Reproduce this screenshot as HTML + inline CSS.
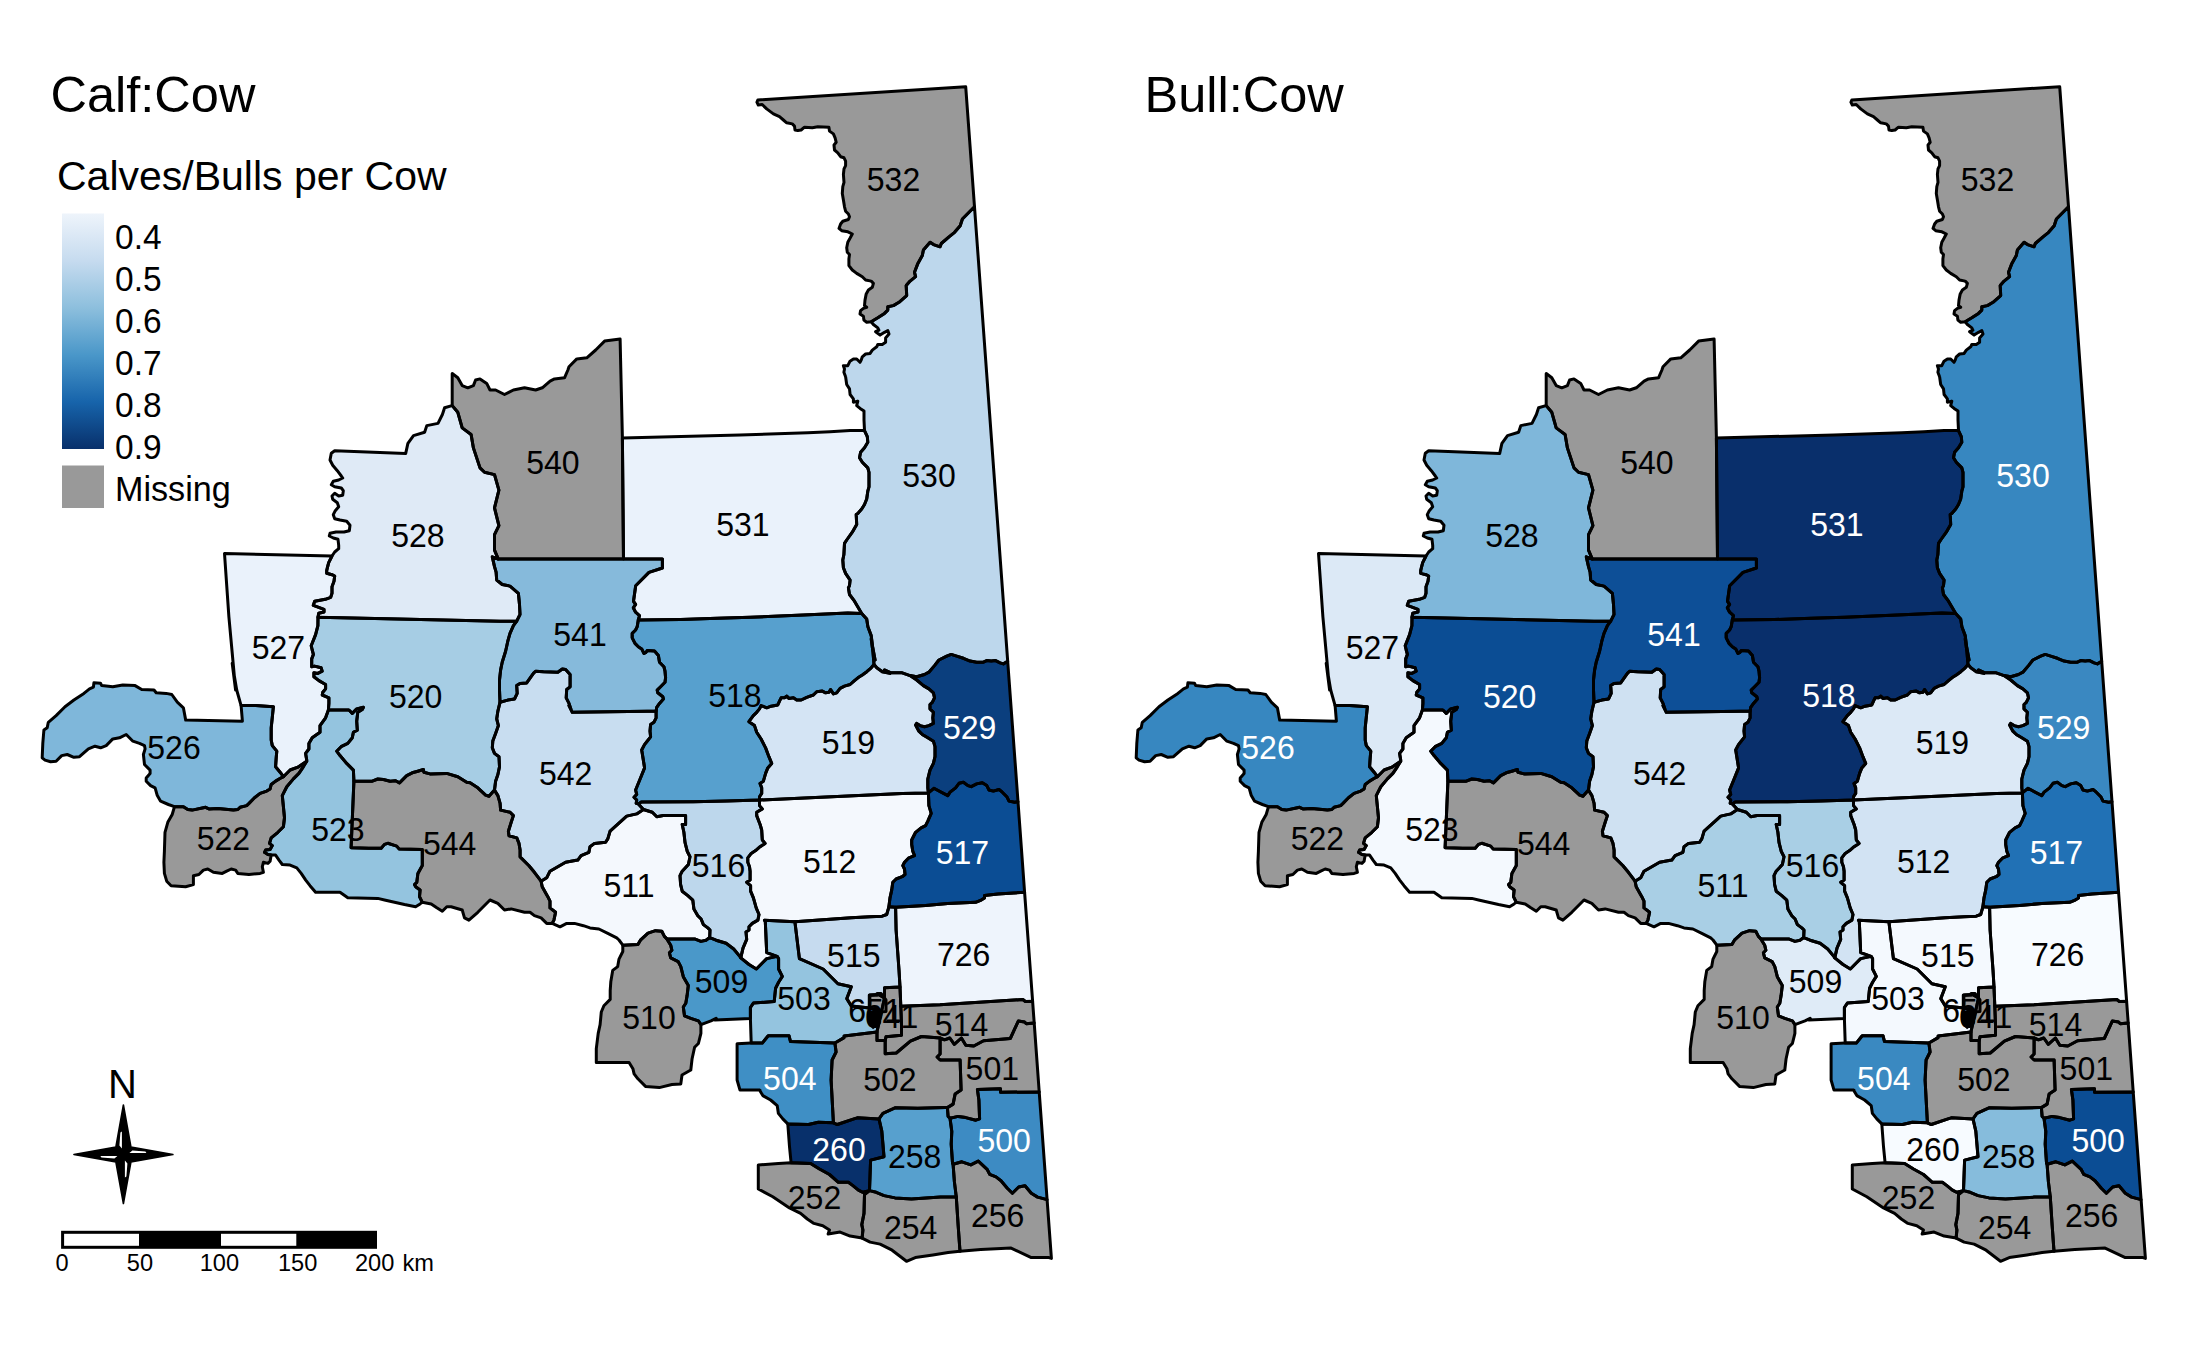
<!DOCTYPE html>
<html><head><meta charset="utf-8"><style>
html,body{margin:0;padding:0;background:#fff;}
svg{display:block;}
text{font-family:"Liberation Sans",sans-serif;}
.lab text{font-size:32.7px;text-anchor:middle;}
</style></head><body>
<svg width="2187" height="1349" viewBox="0 0 2187 1349">
<defs>
<linearGradient id="lg" x1="0" y1="0" x2="0" y2="1">
<stop offset="0" stop-color="#eef4fb"/>
<stop offset="0.2" stop-color="#c6dbef"/>
<stop offset="0.4" stop-color="#8dbfdd"/>
<stop offset="0.6" stop-color="#4a97c9"/>
<stop offset="0.8" stop-color="#1764ab"/>
<stop offset="1" stop-color="#08306b"/>
</linearGradient>
<g id="borders" fill="none" stroke="#000" stroke-width="3" stroke-linejoin="round"><path d="M757.8,100.0 965.7,86.7 974.5,206.8 962.4,219.0 960.2,225.7 954.6,232.3 949.0,236.8 941.3,243.5 940.1,246.8 933.5,244.6 930.1,242.2 923.4,250.0 922.3,255.6 917.9,263.4 914.5,272.3 915.6,276.7 910.1,281.1 906.2,285.6 906.7,295.6 899.0,302.3 893.4,305.6 887.8,306.7 887.8,310.1 884.5,313.4 877.8,317.8 871.2,321.7 866.7,322.3 863.9,320.1 863.4,316.2 860.0,314.0 860.6,310.6 863.4,308.4 866.7,307.3 864.5,305.6 865.0,300.1 866.2,293.9 868.4,290.0 872.3,287.3 873.4,283.4 871.2,281.1 865.6,280.0 862.3,276.7 856.7,273.4 852.3,270.0 848.9,265.6 848.9,258.9 849.5,254.5 847.3,252.2 846.7,247.8 847.8,242.2 850.0,238.3 852.3,234.0 847.9,231.8 841.7,230.7 839.0,228.4 840.6,224.0 842.8,221.2 848.4,219.5 849.5,216.8 848.4,214.0 845.6,211.2 844.5,206.8 843.4,200.1 842.3,193.4 842.8,186.7 844.0,182.3 843.4,174.5 844.0,168.9 845.6,165.6 845.6,161.2 844.0,157.8 840.6,156.7 837.8,152.8 834.5,150.0 834.0,145.0 836.2,142.3 835.1,137.8 833.4,133.9 829.5,131.1 828.9,127.2 817.8,126.7 812.3,127.8 804.5,127.2 801.1,130.0 797.8,130.6 795.0,130.0 794.5,126.1 792.3,123.9 786.7,122.8 783.4,120.0 779.5,116.7 773.4,113.9 766.7,108.9 762.2,104.5 758.3,105.0 756.9,102.2 757.8,100.0Z"/><path d="M871.2,321.7 877.8,317.8 884.5,313.4 887.8,310.1 887.8,306.7 893.4,305.6 899.0,302.3 906.7,295.6 906.2,285.6 910.1,281.1 915.6,276.7 914.5,272.3 917.9,263.4 922.3,255.6 923.4,250.0 930.1,242.2 933.5,244.6 940.1,246.8 941.3,243.5 949.0,236.8 954.6,232.3 960.2,225.7 962.4,219.0 974.5,206.8 1007.7,661.3 1003.4,663.9 1000.1,662.8 995.6,660.6 991.2,661.1 986.7,660.6 983.4,662.2 976.7,662.2 970.1,661.1 963.4,658.3 956.7,656.1 951.2,654.4 946.7,656.1 938.9,660.0 934.5,665.6 928.9,672.2 924.5,674.5 916.7,676.7 910.0,675.6 902.2,672.8 891.1,672.8 884.4,670.0 890.0,673.4 882.3,671.7 876.8,667.8 874.0,664.5 873.0,652.3 871.2,638.9 875.1,660.0 872.9,649.0 871.2,635.6 867.9,626.8 866.7,619.0 861.7,613.4 854.5,601.2 849.5,594.5 848.4,587.8 849.5,585.6 850.1,580.1 845.6,573.4 843.4,567.8 842.8,560.0 843.9,554.5 844.5,543.4 846.7,540.0 852.3,532.2 856.7,524.5 856.2,514.4 857.8,513.4 861.7,509.0 864.5,504.5 866.7,499.0 867.8,491.2 869.0,486.8 869.0,472.3 867.8,467.9 862.3,462.3 859.5,457.8 860.6,452.3 864.5,447.8 867.8,442.3 867.3,436.7 864.5,430.6 864.0,420.0 864.0,411.1 860.1,408.4 856.7,405.6 857.8,401.1 853.4,402.2 853.4,398.9 850.1,394.5 849.5,388.9 846.7,384.5 845.6,376.7 845.6,376.8 843.9,372.3 844.5,369.0 843.4,365.7 847.8,365.7 850.0,361.2 853.4,359.0 856.7,359.0 860.0,362.3 861.2,360.1 862.3,356.8 865.6,354.0 870.1,353.4 872.3,350.1 876.7,346.8 877.8,344.5 882.3,344.5 885.6,342.3 885.6,337.9 889.0,334.0 887.8,330.6 884.5,332.3 880.1,335.1 875.6,331.7 878.9,330.1 877.8,327.9 873.4,324.5 871.2,321.7Z"/><path d="M910.0,675.6 916.7,676.7 924.5,674.5 928.9,672.2 934.5,665.6 938.9,660.0 946.7,656.1 951.2,654.4 956.7,656.1 963.4,658.3 970.1,661.1 976.7,662.2 983.4,662.2 986.7,660.6 991.2,661.1 995.6,660.6 1000.1,662.8 1003.4,663.9 1007.7,661.3 1018.0,801.7 1014.6,802.2 1009.0,801.1 1006.8,796.7 1002.3,792.2 999.0,789.5 993.4,791.1 989.0,790.0 986.8,785.6 982.3,782.8 976.7,783.9 971.2,786.7 967.9,785.6 963.4,782.2 959.0,783.3 955.6,787.8 950.1,792.2 947.8,795.6 941.2,792.2 933.9,788.3 928.4,792.8 928.4,792.9 927.8,787.9 927.8,779.0 930.0,770.1 933.4,763.4 935.0,756.7 935.0,746.7 933.4,741.2 927.8,737.8 922.3,734.5 918.9,731.2 915.6,725.1 916.7,723.4 920.0,725.6 924.5,726.7 928.9,725.6 933.4,723.4 932.8,717.8 933.4,712.3 930.0,708.9 930.0,704.5 932.3,702.3 934.5,697.8 933.4,692.8 928.9,688.9 923.4,685.6 916.7,680.0 910.0,675.6Z"/><path d="M928.4,792.8 933.9,788.3 941.2,792.2 947.8,795.6 950.1,792.2 955.6,787.8 959.0,783.3 963.4,782.2 967.9,785.6 971.2,786.7 976.7,783.9 982.3,782.8 986.8,785.6 989.0,790.0 993.4,791.1 999.0,789.5 1002.3,792.2 1006.8,796.7 1009.0,801.1 1014.6,802.2 1018.0,801.7 1024.6,892.3 997.9,894.0 984.5,895.6 984.5,897.9 981.2,900.1 975.6,902.3 947.8,903.4 925.6,905.6 895.6,907.3 888.9,906.8 890.0,897.9 891.7,890.1 892.8,882.3 896.1,879.0 902.2,876.7 905.0,874.5 904.5,869.0 902.8,865.6 904.5,862.3 908.9,857.8 914.5,855.6 912.8,851.2 911.7,844.5 911.7,840.0 915.6,832.3 921.1,827.8 925.6,825.6 927.8,821.1 931.2,813.4 928.9,805.6 928.4,792.8Z"/><path d="M874.0,664.5 876.8,667.8 882.3,671.7 890.0,673.4 884.4,670.0 891.1,672.8 902.2,672.8 910.0,675.6 916.7,680.0 923.4,685.6 928.9,688.9 933.4,692.8 934.5,697.8 932.3,702.3 930.0,704.5 930.0,708.9 933.4,712.3 932.8,717.8 933.4,723.4 928.9,725.6 924.5,726.7 920.0,725.6 916.7,723.4 915.6,725.1 918.9,731.2 922.3,734.5 927.8,737.8 933.4,741.2 935.0,746.7 935.0,756.7 933.4,763.4 930.0,770.1 927.8,779.0 927.8,787.9 928.4,792.9 902.2,793.4 810.0,797.8 759.5,800.0 759.5,796.8 761.7,793.4 761.7,787.9 760.0,783.4 763.4,781.2 765.6,773.4 767.8,767.9 771.7,763.4 768.9,756.7 765.6,747.9 761.1,739.0 756.7,732.3 754.5,725.6 748.9,721.7 753.3,715.6 756.7,712.3 759.5,708.9 761.1,705.6 766.7,707.8 771.1,706.2 777.8,705.0 779.5,701.1 781.1,697.8 784.5,697.8 786.7,696.1 788.9,698.4 793.4,697.8 796.7,700.0 801.2,700.0 806.7,697.3 813.4,695.0 816.7,691.7 822.3,691.1 825.6,692.8 829.0,692.3 830.6,689.5 833.4,693.9 836.7,692.8 840.1,688.4 844.5,686.1 850.1,684.5 854.5,680.6 857.9,677.8 862.3,675.0 866.8,671.7 871.2,667.8 874.0,664.5Z"/><path d="M622.4,437.9 740.0,435.0 807.8,432.8 830.0,431.7 850.1,430.6 864.5,430.6 867.3,436.7 867.8,442.3 864.5,447.8 860.6,452.3 859.5,457.8 862.3,462.3 867.8,467.9 869.0,472.3 869.0,486.8 867.8,491.2 866.7,499.0 864.5,504.5 861.7,509.0 857.8,513.4 856.2,514.4 856.7,524.5 852.3,532.2 846.7,540.0 844.5,543.4 843.9,554.5 842.8,560.0 843.4,567.8 845.6,573.4 850.1,580.1 849.5,585.6 848.4,587.8 849.5,594.5 854.5,601.2 861.7,613.4 847.8,612.9 825.6,614.0 803.4,615.1 750.6,617.2 717.3,618.3 680.6,619.5 638.3,620.0 639.5,615.6 635.6,612.2 633.3,607.8 635.6,604.4 633.5,601.3 635.7,585.7 649.0,572.4 662.4,568.0 662.4,559.1 623.5,559.1 622.4,437.9Z"/><path d="M452.2,373.4 457.8,377.8 462.2,385.6 467.8,387.8 473.4,385.6 475.6,380.0 480.0,378.9 486.7,383.4 490.0,390.0 495.6,390.0 504.5,394.5 513.4,390.0 524.5,387.8 535.6,390.0 542.3,387.8 550.1,381.1 554.5,378.9 564.5,377.8 567.9,370.0 569.0,366.7 576.8,358.9 586.8,357.8 595.7,350.0 604.6,341.1 620.1,338.9 622.4,437.9 623.5,559.1 498.3,559.1 494.5,550.2 494.5,534.6 498.9,525.7 494.5,507.9 498.9,490.1 494.5,474.6 484.5,472.3 480.0,467.9 473.4,447.9 471.1,434.5 462.2,427.9 457.8,412.3 452.2,405.6 452.2,396.7 452.2,373.4Z"/><path d="M638.3,620.0 680.6,619.5 717.3,618.3 750.6,617.2 803.4,615.1 825.6,614.0 847.8,612.9 861.7,613.4 866.7,619.0 867.9,626.8 871.2,635.6 872.9,649.0 875.1,660.0 871.2,638.9 873.0,652.3 874.0,664.5 871.2,667.8 866.8,671.7 862.3,675.0 857.9,677.8 854.5,680.6 850.1,684.5 844.5,686.1 840.1,688.4 836.7,692.8 833.4,693.9 830.6,689.5 829.0,692.3 825.6,692.8 822.3,691.1 816.7,691.7 813.4,695.0 806.7,697.3 801.2,700.0 796.7,700.0 793.4,697.8 788.9,698.4 786.7,696.1 784.5,697.8 781.1,697.8 779.5,701.1 777.8,705.0 771.1,706.2 766.7,707.8 761.1,705.6 759.5,708.9 756.7,712.3 753.3,715.6 748.9,721.7 754.5,725.6 756.7,732.3 761.1,739.0 765.6,747.9 768.9,756.7 771.7,763.4 767.8,767.9 765.6,773.4 763.4,781.2 760.0,783.4 761.7,787.9 761.7,793.4 759.5,796.8 759.5,800.0 726.7,801.1 693.4,801.7 641.2,802.0 638.4,803.9 636.2,803.3 636.7,800.0 634.0,797.2 636.7,794.4 635.6,790.0 640.1,779.0 644.6,767.9 641.7,750.0 644.5,744.6 647.2,741.2 650.6,736.8 650.0,731.2 650.6,724.5 653.9,722.3 656.1,717.9 656.1,711.2 656.7,707.3 659.5,703.4 663.4,699.0 662.8,696.7 657.8,692.8 657.2,690.1 660.6,686.7 665.0,682.3 665.6,677.8 665.0,671.2 663.9,666.7 659.5,662.3 658.4,655.6 654.5,651.1 647.2,650.6 646.1,652.3 643.9,653.4 641.7,648.9 638.3,646.7 635.0,643.4 632.2,637.8 632.2,633.4 635.6,630.0 637.2,626.7 638.3,620.0Z"/><path d="M498.3,559.1 623.5,559.1 662.4,559.1 662.4,568.0 649.0,572.4 635.7,585.7 633.5,601.3 635.6,604.4 633.3,607.8 635.6,612.2 639.5,615.6 638.3,620.0 637.2,626.7 635.6,630.0 632.2,633.4 632.2,637.8 635.0,643.4 638.3,646.7 641.7,648.9 643.9,653.4 646.1,652.3 647.2,650.6 654.5,651.1 658.4,655.6 659.5,662.3 663.9,666.7 665.0,671.2 665.6,677.8 665.0,682.3 660.6,686.7 657.2,690.1 657.8,692.8 662.8,696.7 663.4,699.0 659.5,703.4 656.7,707.3 656.1,711.2 647.2,711.2 572.3,712.3 569.0,705.6 571.2,710.0 569.0,703.4 566.2,697.9 566.7,689.5 570.1,686.8 570.1,682.3 570.1,674.5 565.6,669.5 562.3,669.0 557.8,672.3 543.4,671.7 535.6,671.2 533.4,673.4 526.7,682.9 520.0,683.4 516.7,685.6 517.2,693.4 514.5,699.0 507.8,700.1 500.0,702.3 499.5,690.1 499.5,680.1 500.6,670.1 502.2,662.3 505.6,651.2 507.8,641.2 510.0,633.4 513.4,625.6 516.7,621.2 520.0,614.5 519.5,604.5 518.4,593.4 510.0,586.1 502.2,584.5 496.7,580.0 496.1,572.2 494.5,566.7 492.3,556.8 498.3,559.1Z"/><path d="M500.0,702.3 507.8,700.1 514.5,699.0 517.2,693.4 516.7,685.6 520.0,683.4 526.7,682.9 533.4,673.4 535.6,671.2 543.4,671.7 557.8,672.3 562.3,669.0 565.6,669.5 570.1,674.5 570.1,682.3 570.1,686.8 566.7,689.5 566.2,697.9 569.0,703.4 571.2,710.0 569.0,705.6 572.3,712.3 647.2,711.2 656.1,711.2 656.1,717.9 653.9,722.3 650.6,724.5 650.0,731.2 650.6,736.8 647.2,741.2 644.5,744.6 641.7,750.0 644.6,767.9 640.1,779.0 635.6,790.0 636.7,794.4 634.0,797.2 636.7,800.0 636.2,803.3 638.4,803.9 643.4,809.5 636.7,813.9 626.7,816.1 610.1,831.1 607.8,838.9 605.6,842.3 594.5,843.4 590.0,846.7 588.9,852.3 581.1,855.6 577.8,860.1 565.6,862.3 550.0,871.2 546.7,877.8 541.1,881.2 534.4,872.3 529.0,865.8 520.1,856.9 520.1,850.0 519.0,843.4 516.8,837.9 509.0,835.7 508.4,831.2 511.2,822.3 513.4,815.6 510.1,812.3 500.6,810.1 500.1,803.4 497.9,795.6 494.5,790.1 495.6,781.2 497.9,774.5 499.5,766.7 499.0,756.7 494.5,753.4 492.3,747.8 492.8,741.1 495.6,733.4 498.4,725.6 496.7,718.9 497.9,711.1 499.5,704.4 500.0,702.3Z"/><path d="M638.4,803.9 641.2,802.0 693.4,801.7 726.7,801.1 759.5,800.0 759.5,805.6 762.3,808.9 756.7,812.2 756.7,815.6 760.1,824.5 761.7,830.0 762.3,840.0 765.1,843.4 760.1,846.7 755.6,850.6 751.2,853.4 747.8,857.8 747.8,862.3 749.5,866.7 750.1,871.2 750.1,880.1 746.7,882.3 750.6,885.6 750.6,891.2 753.4,897.9 756.2,907.9 759.0,914.5 757.9,920.1 752.3,923.4 749.0,926.8 749.0,930.0 746.0,931.9 746.7,939.3 743.0,948.2 740.8,957.8 740.0,956.6 733.7,949.0 726.1,943.3 716.1,940.2 709.7,937.6 710.0,930.0 707.8,927.9 703.4,924.6 701.1,919.0 697.8,915.7 693.9,909.0 692.8,900.1 687.8,895.6 682.2,891.2 680.6,884.5 680.0,875.6 682.2,871.2 688.4,864.5 690.0,856.7 687.2,851.2 685.0,842.3 683.9,832.3 682.2,824.5 685.6,824.5 685.6,815.6 663.3,815.6 656.8,816.7 652.3,812.2 643.4,809.5 638.4,803.9Z"/><path d="M928.4,792.8 928.9,805.6 931.2,813.4 927.8,821.1 925.6,825.6 921.1,827.8 915.6,832.3 911.7,840.0 911.7,844.5 912.8,851.2 914.5,855.6 908.9,857.8 904.5,862.3 902.8,865.6 904.5,869.0 905.0,874.5 902.2,876.7 896.1,879.0 892.8,882.3 891.7,890.1 890.0,897.9 888.9,906.8 886.7,914.5 882.2,916.2 870.0,916.8 851.2,917.8 794.9,921.8 764.5,920.3 765.3,921.5 766.7,952.6 777.1,956.4 766.7,958.6 762.3,963.0 756.4,969.0 749.0,964.5 740.8,957.8 743.0,948.2 746.7,939.3 746.0,931.9 749.0,930.0 749.0,926.8 752.3,923.4 757.9,920.1 759.0,914.5 756.2,907.9 753.4,897.9 750.6,891.2 750.6,885.6 746.7,882.3 750.1,880.1 750.1,871.2 749.5,866.7 747.8,862.3 747.8,857.8 751.2,853.4 755.6,850.6 760.1,846.7 765.1,843.4 762.3,840.0 761.7,830.0 760.1,824.5 756.7,815.6 756.7,812.2 762.3,808.9 759.5,805.6 759.5,800.0 810.0,797.8 902.2,793.4 928.4,792.9Z"/><path d="M643.4,809.5 636.7,813.9 626.7,816.1 610.1,831.1 607.8,838.9 605.6,842.3 594.5,843.4 590.0,846.7 588.9,852.3 581.1,855.6 577.8,860.1 565.6,862.3 550.0,871.2 546.7,877.8 541.1,881.2 542.2,886.7 547.8,896.7 550.0,901.2 550.0,907.9 555.6,912.3 553.9,920.1 552.2,923.4 560.0,926.8 566.7,923.4 574.5,923.4 583.4,925.7 590.0,927.9 598.9,929.0 607.8,933.4 616.7,937.9 619.0,940.0 622.8,945.2 637.9,944.6 640.4,940.2 648.0,933.2 655.5,930.7 661.8,931.3 664.4,936.4 666.9,938.9 694.6,938.9 700.9,941.4 706.0,940.2 709.7,937.6 710.0,930.0 707.8,927.9 703.4,924.6 701.1,919.0 697.8,915.7 693.9,909.0 692.8,900.1 687.8,895.6 682.2,891.2 680.6,884.5 680.0,875.6 682.2,871.2 688.4,864.5 690.0,856.7 687.2,851.2 685.0,842.3 683.9,832.3 682.2,824.5 685.6,824.5 685.6,815.6 663.3,815.6 656.8,816.7 652.3,812.2 643.4,809.5Z"/><path d="M666.9,938.9 694.6,938.9 700.9,941.4 706.0,940.2 709.7,937.6 716.1,940.2 726.1,943.3 733.7,949.0 740.0,956.6 740.8,957.8 749.0,964.5 756.4,969.0 762.3,963.0 766.7,958.6 777.1,956.4 778.6,958.6 778.6,969.0 782.3,976.4 778.6,982.3 775.6,988.2 774.2,1001.6 753.4,1003.1 750.4,1007.5 750.4,1018.6 714.9,1020.1 716.1,1018.3 711.0,1020.8 700.9,1024.6 698.4,1020.8 690.8,1018.3 684.5,1015.8 683.3,1007.0 685.8,1003.2 687.1,995.6 688.3,985.5 683.3,976.7 680.8,966.6 678.2,961.6 670.7,957.8 669.4,952.8 671.9,950.3 670.7,945.2 666.9,938.9Z"/><path d="M666.9,938.9 664.4,936.4 661.8,931.3 655.5,930.7 648.0,933.2 640.4,940.2 637.9,944.6 622.8,945.2 622.8,951.5 619.0,959.1 617.7,966.6 612.7,970.4 610.8,981.8 610.2,990.6 610.2,999.4 603.9,1005.7 601.3,1012.0 600.1,1024.6 598.2,1033.4 596.3,1048.6 596.3,1062.4 629.1,1062.4 632.9,1068.7 634.1,1073.8 637.9,1078.8 645.5,1086.4 659.3,1087.6 671.9,1084.5 680.8,1083.9 682.0,1075.0 690.8,1070.0 692.1,1058.7 694.6,1047.3 698.4,1043.5 700.9,1033.4 700.9,1024.6 698.4,1020.8 690.8,1018.3 684.5,1015.8 683.3,1007.0 685.8,1003.2 687.1,995.6 688.3,985.5 683.3,976.7 680.8,966.6 678.2,961.6 670.7,957.8 669.4,952.8 671.9,950.3 670.7,945.2 666.9,938.9Z"/><path d="M764.5,920.3 794.9,921.8 799.4,958.6 823.1,969.0 837.9,983.8 851.3,986.7 846.8,998.6 851.3,1006.0 869.7,1008.0 869.7,995.2 878.5,994.5 884.5,998.0 881.5,1011.5 877.0,1031.5 877.0,1032.0 844.1,1036.0 844.1,1037.6 834.9,1043.0 834.9,1043.1 790.5,1041.6 789.0,1035.7 768.2,1035.7 762.3,1043.1 751.2,1043.1 750.4,1018.6 750.4,1007.5 753.4,1003.1 774.2,1001.6 775.6,988.2 778.6,982.3 782.3,976.4 778.6,969.0 778.6,958.6 777.1,956.4 766.7,952.6 765.3,921.5 764.5,920.3Z"/><path d="M888.9,906.8 895.6,907.3 896.1,930.0 899.0,970.0 900.0,987.0 884.5,987.8 884.5,998.0 878.5,994.5 869.7,995.2 869.7,1008.0 851.3,1006.0 846.8,998.6 851.3,986.7 837.9,983.8 823.1,969.0 799.4,958.6 794.9,921.8 851.2,917.8 870.0,916.8 882.2,916.2 886.7,914.5 888.9,906.8Z"/><path d="M895.6,907.3 925.6,905.6 947.8,903.4 975.6,902.3 981.2,900.1 984.5,897.9 984.5,895.6 997.9,894.0 1024.6,892.3 1032.6,1001.2 1025.4,1001.5 1022.8,999.5 940.0,1004.8 900.8,1006.3 900.0,987.0 899.0,970.0 896.1,930.0 895.6,907.3Z"/><path d="M900.0,987.0 900.8,1006.3 901.5,1024.9 901.5,1035.2 886.0,1036.7 885.2,1040.4 877.0,1040.4 877.0,1032.0 877.0,1031.5 881.5,1011.5 884.5,998.0 884.5,987.8 900.0,987.0Z"/><path d="M900.8,1006.3 940.0,1004.8 1022.8,999.5 1025.4,1001.5 1032.6,1001.2 1034.2,1022.9 1026.3,1023.8 1024.6,1022.0 1018.3,1021.1 1010.3,1038.5 983.6,1040.7 973.8,1046.0 965.8,1045.2 961.4,1038.0 954.3,1044.3 949.8,1038.0 944.5,1039.8 940.1,1038.0 921.5,1036.5 910.4,1041.2 896.3,1053.0 885.2,1053.8 885.2,1040.4 886.0,1036.7 901.5,1035.2 901.5,1024.9 900.8,1006.3Z"/><path d="M834.9,1043.0 844.1,1037.6 844.1,1036.0 877.0,1032.0 877.0,1040.4 885.2,1040.4 885.2,1053.8 896.3,1053.0 910.4,1041.2 921.5,1036.5 940.1,1038.0 940.1,1054.0 937.1,1057.0 940.1,1060.0 960.1,1060.0 961.1,1090.1 955.1,1094.1 953.1,1104.1 947.4,1107.6 945.5,1107.6 917.8,1108.2 895.0,1107.8 882.9,1113.4 879.0,1118.9 857.3,1117.8 854.0,1118.9 837.3,1124.5 833.4,1122.8 831.1,1080.0 832.1,1060.0 836.1,1052.0 834.9,1043.0Z"/><path d="M940.1,1038.0 944.5,1039.8 949.8,1038.0 954.3,1044.3 961.4,1038.0 965.8,1045.2 973.8,1046.0 983.6,1040.7 1010.3,1038.5 1018.3,1021.1 1024.6,1022.0 1026.3,1023.8 1034.2,1022.9 1039.2,1091.9 1000.5,1092.3 1000.5,1088.8 977.4,1089.6 978.9,1100.0 979.6,1118.9 975.8,1120.2 965.7,1117.6 958.2,1116.4 950.0,1118.3 948.1,1116.4 947.4,1107.6 953.1,1104.1 955.1,1094.1 961.1,1090.1 960.1,1060.0 940.1,1060.0 937.1,1057.0 940.1,1054.0 940.1,1038.0Z"/><path d="M751.2,1043.1 762.3,1043.1 768.2,1035.7 789.0,1035.7 790.5,1041.6 834.9,1043.1 834.9,1043.0 836.1,1052.0 832.1,1060.0 831.1,1080.0 833.4,1122.8 818.4,1122.3 808.4,1124.5 787.8,1123.9 782.8,1118.9 778.4,1113.4 777.2,1105.6 770.6,1100.0 762.8,1095.6 759.5,1090.0 760.0,1090.1 740.0,1090.1 737.1,1080.0 737.1,1043.8 751.2,1043.1Z"/><path d="M787.8,1123.9 808.4,1124.5 818.4,1122.3 833.4,1122.8 837.3,1124.5 854.0,1118.9 857.3,1117.8 879.0,1118.9 881.8,1131.1 884.0,1156.7 870.6,1160.1 869.5,1190.6 862.9,1192.3 858.4,1190.1 852.9,1185.6 848.4,1182.3 838.4,1182.3 829.5,1174.5 819.5,1169.0 810.6,1163.4 791.1,1162.8 789.5,1146.7 787.8,1123.9Z"/><path d="M879.0,1118.9 882.9,1113.4 895.0,1107.8 917.8,1108.2 945.5,1107.6 947.4,1107.6 948.1,1116.4 950.0,1118.3 951.8,1131.5 951.2,1144.1 952.5,1163.0 953.1,1164.3 954.4,1181.9 956.3,1197.1 940.5,1197.1 911.5,1198.9 895.0,1197.9 884.0,1195.6 876.2,1192.3 869.5,1190.6 870.6,1160.1 884.0,1156.7 881.8,1131.1 879.0,1118.9Z"/><path d="M950.0,1118.3 958.2,1116.4 965.7,1117.6 975.8,1120.2 979.6,1118.9 978.9,1100.0 977.4,1089.6 1000.5,1088.8 1000.5,1092.3 1039.2,1091.9 1047.1,1199.6 1037.6,1197.1 1031.3,1193.3 1025.0,1185.7 1018.7,1187.0 1012.4,1193.3 1007.3,1188.2 1001.0,1180.7 996.0,1176.9 989.7,1174.4 987.1,1169.3 978.3,1161.1 970.8,1164.9 961.9,1161.8 953.1,1164.3 952.5,1163.0 951.2,1144.1 951.8,1131.5 950.0,1118.3Z"/><path d="M953.1,1164.3 961.9,1161.8 970.8,1164.9 978.3,1161.1 987.1,1169.3 989.7,1174.4 996.0,1176.9 1001.0,1180.7 1007.3,1188.2 1012.4,1193.3 1018.7,1187.0 1025.0,1185.7 1031.3,1193.3 1037.6,1197.1 1047.1,1199.6 1051.4,1258.4 1048.9,1257.6 1031.3,1257.6 1011.1,1248.1 980.8,1249.4 960.0,1251.3 958.2,1226.1 956.3,1197.1 954.4,1181.9 953.1,1164.3Z"/><path d="M869.5,1190.6 876.2,1192.3 884.0,1195.6 895.0,1197.9 911.5,1198.9 940.5,1197.1 956.3,1197.1 958.2,1226.1 960.0,1251.3 948.1,1252.5 932.9,1255.0 915.3,1257.6 906.5,1261.3 892.1,1250.2 880.1,1244.1 870.1,1242.1 862.1,1238.1 862.9,1230.0 861.8,1224.6 864.0,1213.4 864.5,1194.5 869.5,1190.6Z"/><path d="M758.3,1165.1 778.4,1163.4 791.1,1162.8 810.6,1163.4 819.5,1169.0 829.5,1174.5 838.4,1182.3 848.4,1182.3 852.9,1185.6 858.4,1190.1 862.9,1192.3 869.5,1190.6 864.5,1194.5 864.0,1213.4 861.8,1224.6 862.9,1230.0 862.1,1238.1 850.1,1236.1 840.1,1232.1 828.1,1234.1 829.5,1230.0 822.8,1225.7 813.9,1223.4 807.3,1219.0 800.6,1213.4 789.5,1207.9 772.8,1196.8 758.3,1189.0 758.3,1165.1Z"/><path d="M452.2,405.6 457.8,412.3 462.2,427.9 471.1,434.5 473.4,447.9 480.0,467.9 484.5,472.3 494.5,474.6 498.9,490.1 494.5,507.9 498.9,525.7 494.5,534.6 494.5,550.2 498.3,559.1 492.3,556.8 494.5,566.7 496.1,572.2 496.7,580.0 502.2,584.5 510.0,586.1 518.4,593.4 519.5,604.5 520.0,614.5 516.7,621.2 500.0,621.3 318.0,617.3 318.7,613.3 324.0,612.0 324.0,609.3 318.7,607.3 313.3,605.3 314.7,601.3 325.3,599.3 330.7,597.3 332.0,593.3 332.0,586.7 334.0,581.3 334.7,576.0 332.0,574.7 326.7,573.3 326.7,570.7 327.3,568.0 328.7,562.7 332.0,556.0 334.7,552.0 338.7,548.7 338.7,545.3 338.0,539.3 333.3,538.0 329.3,536.0 330.0,533.3 336.0,532.0 344.0,532.0 349.3,530.7 350.0,525.3 346.7,521.3 340.0,520.0 334.7,518.7 333.3,514.7 335.3,510.7 338.7,506.7 337.3,502.7 332.7,499.3 332.0,496.0 334.7,493.3 338.7,496.0 342.7,495.3 343.3,490.7 341.3,488.0 334.7,486.7 331.3,484.7 333.3,481.3 338.7,480.0 342.7,478.0 341.3,476.0 337.3,470.7 332.7,465.3 330.0,460.0 331.3,453.3 334.7,450.7 405.7,453.4 407.9,443.4 413.5,435.6 424.6,432.3 426.8,425.6 438.0,423.4 442.4,414.5 444.6,407.8 452.0,405.6Z"/><path d="M224.5,553.5 332.0,556.0 328.7,562.7 327.3,568.0 326.7,570.7 326.7,573.3 332.0,574.7 334.7,576.0 334.0,581.3 332.0,586.7 332.0,593.3 330.7,597.3 325.3,599.3 314.7,601.3 313.3,605.3 318.7,607.3 324.0,609.3 324.0,612.0 318.7,613.3 318.0,617.3 317.9,625.7 315.6,634.6 311.2,645.7 312.2,650.0 313.4,654.4 311.7,658.9 311.7,666.7 314.5,666.1 321.1,667.8 322.2,671.1 317.8,673.4 313.9,672.8 313.9,676.7 318.9,680.6 325.6,684.5 325.6,688.9 322.8,692.3 322.2,695.0 328.9,697.8 328.9,703.4 328.4,710.0 325.6,717.8 320.0,725.6 320.0,732.3 312.2,737.8 308.9,743.4 308.9,749.0 305.6,753.4 306.7,760.1 306.7,761.2 297.9,767.2 290.1,770.0 283.4,776.7 280.1,772.2 275.6,766.7 276.2,757.8 276.8,751.1 272.3,745.6 271.2,740.0 271.2,727.8 273.4,706.7 255.6,705.6 241.1,705.6 236.7,690.0 232.2,663.3 235.6,690.0 228.9,616.8 224.5,553.5Z"/><path d="M318.0,617.3 500.0,621.3 516.7,621.2 513.4,625.6 510.0,633.4 507.8,641.2 505.6,651.2 502.2,662.3 500.6,670.1 499.5,680.1 499.5,690.1 500.0,702.3 499.5,704.4 497.9,711.1 496.7,718.9 498.4,725.6 495.6,733.4 492.8,741.1 492.3,747.8 494.5,753.4 499.0,756.7 499.5,766.7 497.9,774.5 495.6,781.2 494.5,790.1 489.0,796.2 485.6,795.1 477.8,787.8 470.1,782.8 466.7,782.3 457.8,776.7 446.7,773.4 430.0,773.9 423.9,772.3 423.4,769.5 417.8,771.2 412.2,772.8 406.7,775.6 399.5,782.9 395.6,780.7 390.1,781.2 383.4,779.5 377.8,779.0 372.3,781.2 363.4,781.2 353.9,781.2 353.4,770.1 346.7,763.4 340.0,755.6 336.7,751.2 341.1,746.7 347.8,743.4 352.3,737.8 353.4,732.3 357.3,730.1 356.7,721.2 357.8,712.3 362.3,709.5 363.4,707.3 356.7,708.9 352.3,713.4 348.9,710.0 328.4,710.0 328.9,703.4 328.9,697.8 322.2,695.0 322.8,692.3 325.6,688.9 325.6,684.5 318.9,680.6 313.9,676.7 313.9,672.8 317.8,673.4 322.2,671.1 321.1,667.8 314.5,666.1 311.7,666.7 311.7,658.9 313.4,654.4 312.2,650.0 311.2,645.7 315.6,634.6 317.9,625.7 318.0,617.3Z"/><path d="M328.4,710.0 348.9,710.0 352.3,713.4 356.7,708.9 363.4,707.3 362.3,709.5 357.8,712.3 356.7,721.2 357.3,730.1 353.4,732.3 352.3,737.8 347.8,743.4 341.1,746.7 336.7,751.2 340.0,755.6 346.7,763.4 353.4,770.1 353.9,781.2 351.1,847.8 368.9,848.3 381.2,848.3 384.5,844.4 387.8,843.3 396.7,846.1 399.0,848.9 422.3,849.5 422.3,865.6 417.9,873.4 416.8,882.3 414.5,884.5 415.6,886.7 420.1,890.0 419.5,896.7 422.3,902.3 420.1,903.9 415.6,906.7 404.5,904.5 384.5,900.0 377.8,898.4 347.8,897.8 340.0,892.3 315.6,892.3 310.0,885.7 305.7,880.1 301.2,873.4 296.8,867.9 290.1,865.1 282.3,864.5 279.0,860.1 275.6,855.1 271.2,855.1 267.9,854.5 264.5,852.3 265.6,850.1 270.1,849.5 272.3,845.6 269.5,843.4 271.2,837.9 277.9,832.3 283.4,826.7 284.5,817.8 283.4,806.7 282.3,795.6 286.8,786.7 293.4,778.9 298.9,773.4 303.3,766.8 306.7,761.2 306.7,760.1 305.6,753.4 308.9,749.0 308.9,743.4 312.2,737.8 320.0,732.3 320.0,725.6 325.6,717.8 328.4,710.0Z"/><path d="M353.9,781.2 363.4,781.2 372.3,781.2 377.8,779.0 383.4,779.5 390.1,781.2 395.6,780.7 399.5,782.9 406.7,775.6 412.2,772.8 417.8,771.2 423.4,769.5 423.9,772.3 430.0,773.9 446.7,773.4 457.8,776.7 466.7,782.3 470.1,782.8 477.8,787.8 485.6,795.1 489.0,796.2 494.5,790.1 497.9,795.6 500.1,803.4 500.6,810.1 510.1,812.3 513.4,815.6 511.2,822.3 508.4,831.2 509.0,835.7 516.8,837.9 519.0,843.4 520.1,850.0 520.1,856.9 529.0,865.8 534.4,872.3 541.1,881.2 542.2,886.7 547.8,896.7 550.0,901.2 550.0,907.9 555.6,912.3 553.9,920.1 552.2,923.4 546.7,923.4 541.1,917.9 534.4,915.6 530.0,912.3 524.5,912.3 511.2,908.9 504.5,910.0 497.8,903.4 490.0,900.0 477.8,912.3 468.9,920.1 464.5,917.8 462.2,910.0 451.1,906.7 446.8,906.7 442.3,911.2 436.8,907.8 431.2,903.9 422.3,902.3 419.5,896.7 420.1,890.0 415.6,886.7 414.5,884.5 416.8,882.3 417.9,873.4 422.3,865.6 422.3,849.5 399.0,848.9 396.7,846.1 387.8,843.3 384.5,844.4 381.2,848.3 368.9,848.3 351.1,847.8 353.9,781.2Z"/><path d="M241.1,705.6 255.6,705.6 273.4,706.7 271.2,727.8 271.2,740.0 272.3,745.6 276.8,751.1 276.2,757.8 275.6,766.7 280.1,772.2 283.4,776.7 281.2,777.8 275.6,781.1 271.2,784.5 270.1,788.9 266.7,791.1 260.1,793.4 254.5,797.8 249.0,803.4 246.7,805.6 240.1,807.3 237.8,809.5 233.4,810.1 217.8,808.4 208.9,808.9 205.6,807.3 203.4,807.8 192.2,810.1 187.8,809.5 183.4,806.7 174.5,806.7 168.4,804.5 160.6,801.2 157.3,795.6 155.1,787.9 150.6,785.6 146.2,781.2 146.2,777.9 150.1,773.4 150.1,770.1 144.5,764.5 143.4,754.5 145.1,748.9 144.5,745.6 139.5,743.4 132.9,741.2 126.2,734.5 119.5,737.8 112.8,738.9 106.2,745.6 100.6,747.8 95.0,746.2 88.4,748.9 79.5,756.7 73.9,757.3 67.2,754.5 61.7,755.6 56.1,761.2 50.6,761.7 45.0,760.1 42.2,757.8 42.8,743.4 43.9,730.0 47.2,727.8 48.3,722.3 56.1,715.6 65.0,706.7 73.9,700.0 83.9,693.4 89.5,688.9 93.4,687.2 93.9,682.8 100.6,683.3 101.7,685.6 112.8,686.7 122.8,685.0 135.1,685.6 141.7,689.5 154.0,690.0 156.2,692.8 166.2,693.4 171.8,694.5 177.3,702.2 183.4,707.8 185.7,720.1 242.4,721.2Z"/><path d="M174.5,806.7 183.4,806.7 187.8,809.5 192.2,810.1 203.4,807.8 205.6,807.3 208.9,808.9 217.8,808.4 233.4,810.1 237.8,809.5 240.1,807.3 246.7,805.6 249.0,803.4 254.5,797.8 260.1,793.4 266.7,791.1 270.1,788.9 271.2,784.5 275.6,781.1 281.2,777.8 283.4,776.7 290.1,770.0 297.9,767.2 306.7,761.2 303.3,766.8 298.9,773.4 293.4,778.9 286.8,786.7 282.3,795.6 283.4,806.7 284.5,817.8 283.4,826.7 277.9,832.3 271.2,837.9 269.5,843.4 272.3,845.6 270.1,849.5 265.6,850.1 264.5,852.3 267.9,854.5 271.2,855.1 270.1,861.2 267.9,863.4 263.4,862.3 262.3,866.8 263.4,872.3 260.1,873.4 249.0,874.5 237.8,873.4 235.6,870.1 231.2,869.0 226.7,871.2 222.3,873.4 213.4,872.3 207.8,869.0 203.4,870.1 198.9,874.5 193.4,875.7 193.4,884.6 185.6,886.8 171.1,885.7 166.7,881.2 164.4,873.4 163.9,862.3 164.4,851.2 165.0,832.3 167.8,822.3 172.2,814.5 174.5,806.7Z"/><path d="M869.3,1005 L869.3,995 L877,995 L877,993.6 L881.2,993.6 L886,1000 L886,1011.5 L880,1012 L869.3,1008Z"/></g>
</defs>
<rect width="2187" height="1349" fill="#fff"/>
<g class="lab">
<g transform="translate(0,0)">
<path d="M757.8,100.0 965.7,86.7 974.5,206.8 962.4,219.0 960.2,225.7 954.6,232.3 949.0,236.8 941.3,243.5 940.1,246.8 933.5,244.6 930.1,242.2 923.4,250.0 922.3,255.6 917.9,263.4 914.5,272.3 915.6,276.7 910.1,281.1 906.2,285.6 906.7,295.6 899.0,302.3 893.4,305.6 887.8,306.7 887.8,310.1 884.5,313.4 877.8,317.8 871.2,321.7 866.7,322.3 863.9,320.1 863.4,316.2 860.0,314.0 860.6,310.6 863.4,308.4 866.7,307.3 864.5,305.6 865.0,300.1 866.2,293.9 868.4,290.0 872.3,287.3 873.4,283.4 871.2,281.1 865.6,280.0 862.3,276.7 856.7,273.4 852.3,270.0 848.9,265.6 848.9,258.9 849.5,254.5 847.3,252.2 846.7,247.8 847.8,242.2 850.0,238.3 852.3,234.0 847.9,231.8 841.7,230.7 839.0,228.4 840.6,224.0 842.8,221.2 848.4,219.5 849.5,216.8 848.4,214.0 845.6,211.2 844.5,206.8 843.4,200.1 842.3,193.4 842.8,186.7 844.0,182.3 843.4,174.5 844.0,168.9 845.6,165.6 845.6,161.2 844.0,157.8 840.6,156.7 837.8,152.8 834.5,150.0 834.0,145.0 836.2,142.3 835.1,137.8 833.4,133.9 829.5,131.1 828.9,127.2 817.8,126.7 812.3,127.8 804.5,127.2 801.1,130.0 797.8,130.6 795.0,130.0 794.5,126.1 792.3,123.9 786.7,122.8 783.4,120.0 779.5,116.7 773.4,113.9 766.7,108.9 762.2,104.5 758.3,105.0 756.9,102.2 757.8,100.0Z" fill="#999999"/>
<path d="M871.2,321.7 877.8,317.8 884.5,313.4 887.8,310.1 887.8,306.7 893.4,305.6 899.0,302.3 906.7,295.6 906.2,285.6 910.1,281.1 915.6,276.7 914.5,272.3 917.9,263.4 922.3,255.6 923.4,250.0 930.1,242.2 933.5,244.6 940.1,246.8 941.3,243.5 949.0,236.8 954.6,232.3 960.2,225.7 962.4,219.0 974.5,206.8 1007.7,661.3 1003.4,663.9 1000.1,662.8 995.6,660.6 991.2,661.1 986.7,660.6 983.4,662.2 976.7,662.2 970.1,661.1 963.4,658.3 956.7,656.1 951.2,654.4 946.7,656.1 938.9,660.0 934.5,665.6 928.9,672.2 924.5,674.5 916.7,676.7 910.0,675.6 902.2,672.8 891.1,672.8 884.4,670.0 890.0,673.4 882.3,671.7 876.8,667.8 874.0,664.5 873.0,652.3 871.2,638.9 875.1,660.0 872.9,649.0 871.2,635.6 867.9,626.8 866.7,619.0 861.7,613.4 854.5,601.2 849.5,594.5 848.4,587.8 849.5,585.6 850.1,580.1 845.6,573.4 843.4,567.8 842.8,560.0 843.9,554.5 844.5,543.4 846.7,540.0 852.3,532.2 856.7,524.5 856.2,514.4 857.8,513.4 861.7,509.0 864.5,504.5 866.7,499.0 867.8,491.2 869.0,486.8 869.0,472.3 867.8,467.9 862.3,462.3 859.5,457.8 860.6,452.3 864.5,447.8 867.8,442.3 867.3,436.7 864.5,430.6 864.0,420.0 864.0,411.1 860.1,408.4 856.7,405.6 857.8,401.1 853.4,402.2 853.4,398.9 850.1,394.5 849.5,388.9 846.7,384.5 845.6,376.7 845.6,376.8 843.9,372.3 844.5,369.0 843.4,365.7 847.8,365.7 850.0,361.2 853.4,359.0 856.7,359.0 860.0,362.3 861.2,360.1 862.3,356.8 865.6,354.0 870.1,353.4 872.3,350.1 876.7,346.8 877.8,344.5 882.3,344.5 885.6,342.3 885.6,337.9 889.0,334.0 887.8,330.6 884.5,332.3 880.1,335.1 875.6,331.7 878.9,330.1 877.8,327.9 873.4,324.5 871.2,321.7Z" fill="#bdd7ec"/>
<path d="M910.0,675.6 916.7,676.7 924.5,674.5 928.9,672.2 934.5,665.6 938.9,660.0 946.7,656.1 951.2,654.4 956.7,656.1 963.4,658.3 970.1,661.1 976.7,662.2 983.4,662.2 986.7,660.6 991.2,661.1 995.6,660.6 1000.1,662.8 1003.4,663.9 1007.7,661.3 1018.0,801.7 1014.6,802.2 1009.0,801.1 1006.8,796.7 1002.3,792.2 999.0,789.5 993.4,791.1 989.0,790.0 986.8,785.6 982.3,782.8 976.7,783.9 971.2,786.7 967.9,785.6 963.4,782.2 959.0,783.3 955.6,787.8 950.1,792.2 947.8,795.6 941.2,792.2 933.9,788.3 928.4,792.8 928.4,792.9 927.8,787.9 927.8,779.0 930.0,770.1 933.4,763.4 935.0,756.7 935.0,746.7 933.4,741.2 927.8,737.8 922.3,734.5 918.9,731.2 915.6,725.1 916.7,723.4 920.0,725.6 924.5,726.7 928.9,725.6 933.4,723.4 932.8,717.8 933.4,712.3 930.0,708.9 930.0,704.5 932.3,702.3 934.5,697.8 933.4,692.8 928.9,688.9 923.4,685.6 916.7,680.0 910.0,675.6Z" fill="#0b3f7e"/>
<path d="M928.4,792.8 933.9,788.3 941.2,792.2 947.8,795.6 950.1,792.2 955.6,787.8 959.0,783.3 963.4,782.2 967.9,785.6 971.2,786.7 976.7,783.9 982.3,782.8 986.8,785.6 989.0,790.0 993.4,791.1 999.0,789.5 1002.3,792.2 1006.8,796.7 1009.0,801.1 1014.6,802.2 1018.0,801.7 1024.6,892.3 997.9,894.0 984.5,895.6 984.5,897.9 981.2,900.1 975.6,902.3 947.8,903.4 925.6,905.6 895.6,907.3 888.9,906.8 890.0,897.9 891.7,890.1 892.8,882.3 896.1,879.0 902.2,876.7 905.0,874.5 904.5,869.0 902.8,865.6 904.5,862.3 908.9,857.8 914.5,855.6 912.8,851.2 911.7,844.5 911.7,840.0 915.6,832.3 921.1,827.8 925.6,825.6 927.8,821.1 931.2,813.4 928.9,805.6 928.4,792.8Z" fill="#0b4d94"/>
<path d="M874.0,664.5 876.8,667.8 882.3,671.7 890.0,673.4 884.4,670.0 891.1,672.8 902.2,672.8 910.0,675.6 916.7,680.0 923.4,685.6 928.9,688.9 933.4,692.8 934.5,697.8 932.3,702.3 930.0,704.5 930.0,708.9 933.4,712.3 932.8,717.8 933.4,723.4 928.9,725.6 924.5,726.7 920.0,725.6 916.7,723.4 915.6,725.1 918.9,731.2 922.3,734.5 927.8,737.8 933.4,741.2 935.0,746.7 935.0,756.7 933.4,763.4 930.0,770.1 927.8,779.0 927.8,787.9 928.4,792.9 902.2,793.4 810.0,797.8 759.5,800.0 759.5,796.8 761.7,793.4 761.7,787.9 760.0,783.4 763.4,781.2 765.6,773.4 767.8,767.9 771.7,763.4 768.9,756.7 765.6,747.9 761.1,739.0 756.7,732.3 754.5,725.6 748.9,721.7 753.3,715.6 756.7,712.3 759.5,708.9 761.1,705.6 766.7,707.8 771.1,706.2 777.8,705.0 779.5,701.1 781.1,697.8 784.5,697.8 786.7,696.1 788.9,698.4 793.4,697.8 796.7,700.0 801.2,700.0 806.7,697.3 813.4,695.0 816.7,691.7 822.3,691.1 825.6,692.8 829.0,692.3 830.6,689.5 833.4,693.9 836.7,692.8 840.1,688.4 844.5,686.1 850.1,684.5 854.5,680.6 857.9,677.8 862.3,675.0 866.8,671.7 871.2,667.8 874.0,664.5Z" fill="#d4e4f4"/>
<path d="M622.4,437.9 740.0,435.0 807.8,432.8 830.0,431.7 850.1,430.6 864.5,430.6 867.3,436.7 867.8,442.3 864.5,447.8 860.6,452.3 859.5,457.8 862.3,462.3 867.8,467.9 869.0,472.3 869.0,486.8 867.8,491.2 866.7,499.0 864.5,504.5 861.7,509.0 857.8,513.4 856.2,514.4 856.7,524.5 852.3,532.2 846.7,540.0 844.5,543.4 843.9,554.5 842.8,560.0 843.4,567.8 845.6,573.4 850.1,580.1 849.5,585.6 848.4,587.8 849.5,594.5 854.5,601.2 861.7,613.4 847.8,612.9 825.6,614.0 803.4,615.1 750.6,617.2 717.3,618.3 680.6,619.5 638.3,620.0 639.5,615.6 635.6,612.2 633.3,607.8 635.6,604.4 633.5,601.3 635.7,585.7 649.0,572.4 662.4,568.0 662.4,559.1 623.5,559.1 622.4,437.9Z" fill="#eaf2fb"/>
<path d="M452.2,373.4 457.8,377.8 462.2,385.6 467.8,387.8 473.4,385.6 475.6,380.0 480.0,378.9 486.7,383.4 490.0,390.0 495.6,390.0 504.5,394.5 513.4,390.0 524.5,387.8 535.6,390.0 542.3,387.8 550.1,381.1 554.5,378.9 564.5,377.8 567.9,370.0 569.0,366.7 576.8,358.9 586.8,357.8 595.7,350.0 604.6,341.1 620.1,338.9 622.4,437.9 623.5,559.1 498.3,559.1 494.5,550.2 494.5,534.6 498.9,525.7 494.5,507.9 498.9,490.1 494.5,474.6 484.5,472.3 480.0,467.9 473.4,447.9 471.1,434.5 462.2,427.9 457.8,412.3 452.2,405.6 452.2,396.7 452.2,373.4Z" fill="#999999"/>
<path d="M638.3,620.0 680.6,619.5 717.3,618.3 750.6,617.2 803.4,615.1 825.6,614.0 847.8,612.9 861.7,613.4 866.7,619.0 867.9,626.8 871.2,635.6 872.9,649.0 875.1,660.0 871.2,638.9 873.0,652.3 874.0,664.5 871.2,667.8 866.8,671.7 862.3,675.0 857.9,677.8 854.5,680.6 850.1,684.5 844.5,686.1 840.1,688.4 836.7,692.8 833.4,693.9 830.6,689.5 829.0,692.3 825.6,692.8 822.3,691.1 816.7,691.7 813.4,695.0 806.7,697.3 801.2,700.0 796.7,700.0 793.4,697.8 788.9,698.4 786.7,696.1 784.5,697.8 781.1,697.8 779.5,701.1 777.8,705.0 771.1,706.2 766.7,707.8 761.1,705.6 759.5,708.9 756.7,712.3 753.3,715.6 748.9,721.7 754.5,725.6 756.7,732.3 761.1,739.0 765.6,747.9 768.9,756.7 771.7,763.4 767.8,767.9 765.6,773.4 763.4,781.2 760.0,783.4 761.7,787.9 761.7,793.4 759.5,796.8 759.5,800.0 726.7,801.1 693.4,801.7 641.2,802.0 638.4,803.9 636.2,803.3 636.7,800.0 634.0,797.2 636.7,794.4 635.6,790.0 640.1,779.0 644.6,767.9 641.7,750.0 644.5,744.6 647.2,741.2 650.6,736.8 650.0,731.2 650.6,724.5 653.9,722.3 656.1,717.9 656.1,711.2 656.7,707.3 659.5,703.4 663.4,699.0 662.8,696.7 657.8,692.8 657.2,690.1 660.6,686.7 665.0,682.3 665.6,677.8 665.0,671.2 663.9,666.7 659.5,662.3 658.4,655.6 654.5,651.1 647.2,650.6 646.1,652.3 643.9,653.4 641.7,648.9 638.3,646.7 635.0,643.4 632.2,637.8 632.2,633.4 635.6,630.0 637.2,626.7 638.3,620.0Z" fill="#57a0ce"/>
<path d="M498.3,559.1 623.5,559.1 662.4,559.1 662.4,568.0 649.0,572.4 635.7,585.7 633.5,601.3 635.6,604.4 633.3,607.8 635.6,612.2 639.5,615.6 638.3,620.0 637.2,626.7 635.6,630.0 632.2,633.4 632.2,637.8 635.0,643.4 638.3,646.7 641.7,648.9 643.9,653.4 646.1,652.3 647.2,650.6 654.5,651.1 658.4,655.6 659.5,662.3 663.9,666.7 665.0,671.2 665.6,677.8 665.0,682.3 660.6,686.7 657.2,690.1 657.8,692.8 662.8,696.7 663.4,699.0 659.5,703.4 656.7,707.3 656.1,711.2 647.2,711.2 572.3,712.3 569.0,705.6 571.2,710.0 569.0,703.4 566.2,697.9 566.7,689.5 570.1,686.8 570.1,682.3 570.1,674.5 565.6,669.5 562.3,669.0 557.8,672.3 543.4,671.7 535.6,671.2 533.4,673.4 526.7,682.9 520.0,683.4 516.7,685.6 517.2,693.4 514.5,699.0 507.8,700.1 500.0,702.3 499.5,690.1 499.5,680.1 500.6,670.1 502.2,662.3 505.6,651.2 507.8,641.2 510.0,633.4 513.4,625.6 516.7,621.2 520.0,614.5 519.5,604.5 518.4,593.4 510.0,586.1 502.2,584.5 496.7,580.0 496.1,572.2 494.5,566.7 492.3,556.8 498.3,559.1Z" fill="#86badb"/>
<path d="M500.0,702.3 507.8,700.1 514.5,699.0 517.2,693.4 516.7,685.6 520.0,683.4 526.7,682.9 533.4,673.4 535.6,671.2 543.4,671.7 557.8,672.3 562.3,669.0 565.6,669.5 570.1,674.5 570.1,682.3 570.1,686.8 566.7,689.5 566.2,697.9 569.0,703.4 571.2,710.0 569.0,705.6 572.3,712.3 647.2,711.2 656.1,711.2 656.1,717.9 653.9,722.3 650.6,724.5 650.0,731.2 650.6,736.8 647.2,741.2 644.5,744.6 641.7,750.0 644.6,767.9 640.1,779.0 635.6,790.0 636.7,794.4 634.0,797.2 636.7,800.0 636.2,803.3 638.4,803.9 643.4,809.5 636.7,813.9 626.7,816.1 610.1,831.1 607.8,838.9 605.6,842.3 594.5,843.4 590.0,846.7 588.9,852.3 581.1,855.6 577.8,860.1 565.6,862.3 550.0,871.2 546.7,877.8 541.1,881.2 534.4,872.3 529.0,865.8 520.1,856.9 520.1,850.0 519.0,843.4 516.8,837.9 509.0,835.7 508.4,831.2 511.2,822.3 513.4,815.6 510.1,812.3 500.6,810.1 500.1,803.4 497.9,795.6 494.5,790.1 495.6,781.2 497.9,774.5 499.5,766.7 499.0,756.7 494.5,753.4 492.3,747.8 492.8,741.1 495.6,733.4 498.4,725.6 496.7,718.9 497.9,711.1 499.5,704.4 500.0,702.3Z" fill="#c8ddf0"/>
<path d="M638.4,803.9 641.2,802.0 693.4,801.7 726.7,801.1 759.5,800.0 759.5,805.6 762.3,808.9 756.7,812.2 756.7,815.6 760.1,824.5 761.7,830.0 762.3,840.0 765.1,843.4 760.1,846.7 755.6,850.6 751.2,853.4 747.8,857.8 747.8,862.3 749.5,866.7 750.1,871.2 750.1,880.1 746.7,882.3 750.6,885.6 750.6,891.2 753.4,897.9 756.2,907.9 759.0,914.5 757.9,920.1 752.3,923.4 749.0,926.8 749.0,930.0 746.0,931.9 746.7,939.3 743.0,948.2 740.8,957.8 740.0,956.6 733.7,949.0 726.1,943.3 716.1,940.2 709.7,937.6 710.0,930.0 707.8,927.9 703.4,924.6 701.1,919.0 697.8,915.7 693.9,909.0 692.8,900.1 687.8,895.6 682.2,891.2 680.6,884.5 680.0,875.6 682.2,871.2 688.4,864.5 690.0,856.7 687.2,851.2 685.0,842.3 683.9,832.3 682.2,824.5 685.6,824.5 685.6,815.6 663.3,815.6 656.8,816.7 652.3,812.2 643.4,809.5 638.4,803.9Z" fill="#bdd7ec"/>
<path d="M928.4,792.8 928.9,805.6 931.2,813.4 927.8,821.1 925.6,825.6 921.1,827.8 915.6,832.3 911.7,840.0 911.7,844.5 912.8,851.2 914.5,855.6 908.9,857.8 904.5,862.3 902.8,865.6 904.5,869.0 905.0,874.5 902.2,876.7 896.1,879.0 892.8,882.3 891.7,890.1 890.0,897.9 888.9,906.8 886.7,914.5 882.2,916.2 870.0,916.8 851.2,917.8 794.9,921.8 764.5,920.3 765.3,921.5 766.7,952.6 777.1,956.4 766.7,958.6 762.3,963.0 756.4,969.0 749.0,964.5 740.8,957.8 743.0,948.2 746.7,939.3 746.0,931.9 749.0,930.0 749.0,926.8 752.3,923.4 757.9,920.1 759.0,914.5 756.2,907.9 753.4,897.9 750.6,891.2 750.6,885.6 746.7,882.3 750.1,880.1 750.1,871.2 749.5,866.7 747.8,862.3 747.8,857.8 751.2,853.4 755.6,850.6 760.1,846.7 765.1,843.4 762.3,840.0 761.7,830.0 760.1,824.5 756.7,815.6 756.7,812.2 762.3,808.9 759.5,805.6 759.5,800.0 810.0,797.8 902.2,793.4 928.4,792.9Z" fill="#f4f8fd"/>
<path d="M643.4,809.5 636.7,813.9 626.7,816.1 610.1,831.1 607.8,838.9 605.6,842.3 594.5,843.4 590.0,846.7 588.9,852.3 581.1,855.6 577.8,860.1 565.6,862.3 550.0,871.2 546.7,877.8 541.1,881.2 542.2,886.7 547.8,896.7 550.0,901.2 550.0,907.9 555.6,912.3 553.9,920.1 552.2,923.4 560.0,926.8 566.7,923.4 574.5,923.4 583.4,925.7 590.0,927.9 598.9,929.0 607.8,933.4 616.7,937.9 619.0,940.0 622.8,945.2 637.9,944.6 640.4,940.2 648.0,933.2 655.5,930.7 661.8,931.3 664.4,936.4 666.9,938.9 694.6,938.9 700.9,941.4 706.0,940.2 709.7,937.6 710.0,930.0 707.8,927.9 703.4,924.6 701.1,919.0 697.8,915.7 693.9,909.0 692.8,900.1 687.8,895.6 682.2,891.2 680.6,884.5 680.0,875.6 682.2,871.2 688.4,864.5 690.0,856.7 687.2,851.2 685.0,842.3 683.9,832.3 682.2,824.5 685.6,824.5 685.6,815.6 663.3,815.6 656.8,816.7 652.3,812.2 643.4,809.5Z" fill="#f4f8fd"/>
<path d="M666.9,938.9 694.6,938.9 700.9,941.4 706.0,940.2 709.7,937.6 716.1,940.2 726.1,943.3 733.7,949.0 740.0,956.6 740.8,957.8 749.0,964.5 756.4,969.0 762.3,963.0 766.7,958.6 777.1,956.4 778.6,958.6 778.6,969.0 782.3,976.4 778.6,982.3 775.6,988.2 774.2,1001.6 753.4,1003.1 750.4,1007.5 750.4,1018.6 714.9,1020.1 716.1,1018.3 711.0,1020.8 700.9,1024.6 698.4,1020.8 690.8,1018.3 684.5,1015.8 683.3,1007.0 685.8,1003.2 687.1,995.6 688.3,985.5 683.3,976.7 680.8,966.6 678.2,961.6 670.7,957.8 669.4,952.8 671.9,950.3 670.7,945.2 666.9,938.9Z" fill="#4a98c9"/>
<path d="M666.9,938.9 664.4,936.4 661.8,931.3 655.5,930.7 648.0,933.2 640.4,940.2 637.9,944.6 622.8,945.2 622.8,951.5 619.0,959.1 617.7,966.6 612.7,970.4 610.8,981.8 610.2,990.6 610.2,999.4 603.9,1005.7 601.3,1012.0 600.1,1024.6 598.2,1033.4 596.3,1048.6 596.3,1062.4 629.1,1062.4 632.9,1068.7 634.1,1073.8 637.9,1078.8 645.5,1086.4 659.3,1087.6 671.9,1084.5 680.8,1083.9 682.0,1075.0 690.8,1070.0 692.1,1058.7 694.6,1047.3 698.4,1043.5 700.9,1033.4 700.9,1024.6 698.4,1020.8 690.8,1018.3 684.5,1015.8 683.3,1007.0 685.8,1003.2 687.1,995.6 688.3,985.5 683.3,976.7 680.8,966.6 678.2,961.6 670.7,957.8 669.4,952.8 671.9,950.3 670.7,945.2 666.9,938.9Z" fill="#999999"/>
<path d="M764.5,920.3 794.9,921.8 799.4,958.6 823.1,969.0 837.9,983.8 851.3,986.7 846.8,998.6 851.3,1006.0 869.7,1008.0 869.7,995.2 878.5,994.5 884.5,998.0 881.5,1011.5 877.0,1031.5 877.0,1032.0 844.1,1036.0 844.1,1037.6 834.9,1043.0 834.9,1043.1 790.5,1041.6 789.0,1035.7 768.2,1035.7 762.3,1043.1 751.2,1043.1 750.4,1018.6 750.4,1007.5 753.4,1003.1 774.2,1001.6 775.6,988.2 778.6,982.3 782.3,976.4 778.6,969.0 778.6,958.6 777.1,956.4 766.7,952.6 765.3,921.5 764.5,920.3Z" fill="#94c4df"/>
<path d="M888.9,906.8 895.6,907.3 896.1,930.0 899.0,970.0 900.0,987.0 884.5,987.8 884.5,998.0 878.5,994.5 869.7,995.2 869.7,1008.0 851.3,1006.0 846.8,998.6 851.3,986.7 837.9,983.8 823.1,969.0 799.4,958.6 794.9,921.8 851.2,917.8 870.0,916.8 882.2,916.2 886.7,914.5 888.9,906.8Z" fill="#c6dbef"/>
<path d="M895.6,907.3 925.6,905.6 947.8,903.4 975.6,902.3 981.2,900.1 984.5,897.9 984.5,895.6 997.9,894.0 1024.6,892.3 1032.6,1001.2 1025.4,1001.5 1022.8,999.5 940.0,1004.8 900.8,1006.3 900.0,987.0 899.0,970.0 896.1,930.0 895.6,907.3Z" fill="#eef4fc"/>
<path d="M900.0,987.0 900.8,1006.3 901.5,1024.9 901.5,1035.2 886.0,1036.7 885.2,1040.4 877.0,1040.4 877.0,1032.0 877.0,1031.5 881.5,1011.5 884.5,998.0 884.5,987.8 900.0,987.0Z" fill="#999999"/>
<path d="M900.8,1006.3 940.0,1004.8 1022.8,999.5 1025.4,1001.5 1032.6,1001.2 1034.2,1022.9 1026.3,1023.8 1024.6,1022.0 1018.3,1021.1 1010.3,1038.5 983.6,1040.7 973.8,1046.0 965.8,1045.2 961.4,1038.0 954.3,1044.3 949.8,1038.0 944.5,1039.8 940.1,1038.0 921.5,1036.5 910.4,1041.2 896.3,1053.0 885.2,1053.8 885.2,1040.4 886.0,1036.7 901.5,1035.2 901.5,1024.9 900.8,1006.3Z" fill="#999999"/>
<path d="M834.9,1043.0 844.1,1037.6 844.1,1036.0 877.0,1032.0 877.0,1040.4 885.2,1040.4 885.2,1053.8 896.3,1053.0 910.4,1041.2 921.5,1036.5 940.1,1038.0 940.1,1054.0 937.1,1057.0 940.1,1060.0 960.1,1060.0 961.1,1090.1 955.1,1094.1 953.1,1104.1 947.4,1107.6 945.5,1107.6 917.8,1108.2 895.0,1107.8 882.9,1113.4 879.0,1118.9 857.3,1117.8 854.0,1118.9 837.3,1124.5 833.4,1122.8 831.1,1080.0 832.1,1060.0 836.1,1052.0 834.9,1043.0Z" fill="#999999"/>
<path d="M940.1,1038.0 944.5,1039.8 949.8,1038.0 954.3,1044.3 961.4,1038.0 965.8,1045.2 973.8,1046.0 983.6,1040.7 1010.3,1038.5 1018.3,1021.1 1024.6,1022.0 1026.3,1023.8 1034.2,1022.9 1039.2,1091.9 1000.5,1092.3 1000.5,1088.8 977.4,1089.6 978.9,1100.0 979.6,1118.9 975.8,1120.2 965.7,1117.6 958.2,1116.4 950.0,1118.3 948.1,1116.4 947.4,1107.6 953.1,1104.1 955.1,1094.1 961.1,1090.1 960.1,1060.0 940.1,1060.0 937.1,1057.0 940.1,1054.0 940.1,1038.0Z" fill="#999999"/>
<path d="M751.2,1043.1 762.3,1043.1 768.2,1035.7 789.0,1035.7 790.5,1041.6 834.9,1043.1 834.9,1043.0 836.1,1052.0 832.1,1060.0 831.1,1080.0 833.4,1122.8 818.4,1122.3 808.4,1124.5 787.8,1123.9 782.8,1118.9 778.4,1113.4 777.2,1105.6 770.6,1100.0 762.8,1095.6 759.5,1090.0 760.0,1090.1 740.0,1090.1 737.1,1080.0 737.1,1043.8 751.2,1043.1Z" fill="#3f8fc5"/>
<path d="M787.8,1123.9 808.4,1124.5 818.4,1122.3 833.4,1122.8 837.3,1124.5 854.0,1118.9 857.3,1117.8 879.0,1118.9 881.8,1131.1 884.0,1156.7 870.6,1160.1 869.5,1190.6 862.9,1192.3 858.4,1190.1 852.9,1185.6 848.4,1182.3 838.4,1182.3 829.5,1174.5 819.5,1169.0 810.6,1163.4 791.1,1162.8 789.5,1146.7 787.8,1123.9Z" fill="#08306b"/>
<path d="M879.0,1118.9 882.9,1113.4 895.0,1107.8 917.8,1108.2 945.5,1107.6 947.4,1107.6 948.1,1116.4 950.0,1118.3 951.8,1131.5 951.2,1144.1 952.5,1163.0 953.1,1164.3 954.4,1181.9 956.3,1197.1 940.5,1197.1 911.5,1198.9 895.0,1197.9 884.0,1195.6 876.2,1192.3 869.5,1190.6 870.6,1160.1 884.0,1156.7 881.8,1131.1 879.0,1118.9Z" fill="#57a0ce"/>
<path d="M950.0,1118.3 958.2,1116.4 965.7,1117.6 975.8,1120.2 979.6,1118.9 978.9,1100.0 977.4,1089.6 1000.5,1088.8 1000.5,1092.3 1039.2,1091.9 1047.1,1199.6 1037.6,1197.1 1031.3,1193.3 1025.0,1185.7 1018.7,1187.0 1012.4,1193.3 1007.3,1188.2 1001.0,1180.7 996.0,1176.9 989.7,1174.4 987.1,1169.3 978.3,1161.1 970.8,1164.9 961.9,1161.8 953.1,1164.3 952.5,1163.0 951.2,1144.1 951.8,1131.5 950.0,1118.3Z" fill="#3d8bc3"/>
<path d="M953.1,1164.3 961.9,1161.8 970.8,1164.9 978.3,1161.1 987.1,1169.3 989.7,1174.4 996.0,1176.9 1001.0,1180.7 1007.3,1188.2 1012.4,1193.3 1018.7,1187.0 1025.0,1185.7 1031.3,1193.3 1037.6,1197.1 1047.1,1199.6 1051.4,1258.4 1048.9,1257.6 1031.3,1257.6 1011.1,1248.1 980.8,1249.4 960.0,1251.3 958.2,1226.1 956.3,1197.1 954.4,1181.9 953.1,1164.3Z" fill="#999999"/>
<path d="M869.5,1190.6 876.2,1192.3 884.0,1195.6 895.0,1197.9 911.5,1198.9 940.5,1197.1 956.3,1197.1 958.2,1226.1 960.0,1251.3 948.1,1252.5 932.9,1255.0 915.3,1257.6 906.5,1261.3 892.1,1250.2 880.1,1244.1 870.1,1242.1 862.1,1238.1 862.9,1230.0 861.8,1224.6 864.0,1213.4 864.5,1194.5 869.5,1190.6Z" fill="#999999"/>
<path d="M758.3,1165.1 778.4,1163.4 791.1,1162.8 810.6,1163.4 819.5,1169.0 829.5,1174.5 838.4,1182.3 848.4,1182.3 852.9,1185.6 858.4,1190.1 862.9,1192.3 869.5,1190.6 864.5,1194.5 864.0,1213.4 861.8,1224.6 862.9,1230.0 862.1,1238.1 850.1,1236.1 840.1,1232.1 828.1,1234.1 829.5,1230.0 822.8,1225.7 813.9,1223.4 807.3,1219.0 800.6,1213.4 789.5,1207.9 772.8,1196.8 758.3,1189.0 758.3,1165.1Z" fill="#999999"/>
<path d="M452.2,405.6 457.8,412.3 462.2,427.9 471.1,434.5 473.4,447.9 480.0,467.9 484.5,472.3 494.5,474.6 498.9,490.1 494.5,507.9 498.9,525.7 494.5,534.6 494.5,550.2 498.3,559.1 492.3,556.8 494.5,566.7 496.1,572.2 496.7,580.0 502.2,584.5 510.0,586.1 518.4,593.4 519.5,604.5 520.0,614.5 516.7,621.2 500.0,621.3 318.0,617.3 318.7,613.3 324.0,612.0 324.0,609.3 318.7,607.3 313.3,605.3 314.7,601.3 325.3,599.3 330.7,597.3 332.0,593.3 332.0,586.7 334.0,581.3 334.7,576.0 332.0,574.7 326.7,573.3 326.7,570.7 327.3,568.0 328.7,562.7 332.0,556.0 334.7,552.0 338.7,548.7 338.7,545.3 338.0,539.3 333.3,538.0 329.3,536.0 330.0,533.3 336.0,532.0 344.0,532.0 349.3,530.7 350.0,525.3 346.7,521.3 340.0,520.0 334.7,518.7 333.3,514.7 335.3,510.7 338.7,506.7 337.3,502.7 332.7,499.3 332.0,496.0 334.7,493.3 338.7,496.0 342.7,495.3 343.3,490.7 341.3,488.0 334.7,486.7 331.3,484.7 333.3,481.3 338.7,480.0 342.7,478.0 341.3,476.0 337.3,470.7 332.7,465.3 330.0,460.0 331.3,453.3 334.7,450.7 405.7,453.4 407.9,443.4 413.5,435.6 424.6,432.3 426.8,425.6 438.0,423.4 442.4,414.5 444.6,407.8 452.0,405.6Z" fill="#dfeaf6"/>
<path d="M224.5,553.5 332.0,556.0 328.7,562.7 327.3,568.0 326.7,570.7 326.7,573.3 332.0,574.7 334.7,576.0 334.0,581.3 332.0,586.7 332.0,593.3 330.7,597.3 325.3,599.3 314.7,601.3 313.3,605.3 318.7,607.3 324.0,609.3 324.0,612.0 318.7,613.3 318.0,617.3 317.9,625.7 315.6,634.6 311.2,645.7 312.2,650.0 313.4,654.4 311.7,658.9 311.7,666.7 314.5,666.1 321.1,667.8 322.2,671.1 317.8,673.4 313.9,672.8 313.9,676.7 318.9,680.6 325.6,684.5 325.6,688.9 322.8,692.3 322.2,695.0 328.9,697.8 328.9,703.4 328.4,710.0 325.6,717.8 320.0,725.6 320.0,732.3 312.2,737.8 308.9,743.4 308.9,749.0 305.6,753.4 306.7,760.1 306.7,761.2 297.9,767.2 290.1,770.0 283.4,776.7 280.1,772.2 275.6,766.7 276.2,757.8 276.8,751.1 272.3,745.6 271.2,740.0 271.2,727.8 273.4,706.7 255.6,705.6 241.1,705.6 236.7,690.0 232.2,663.3 235.6,690.0 228.9,616.8 224.5,553.5Z" fill="#eaf2fb"/>
<path d="M318.0,617.3 500.0,621.3 516.7,621.2 513.4,625.6 510.0,633.4 507.8,641.2 505.6,651.2 502.2,662.3 500.6,670.1 499.5,680.1 499.5,690.1 500.0,702.3 499.5,704.4 497.9,711.1 496.7,718.9 498.4,725.6 495.6,733.4 492.8,741.1 492.3,747.8 494.5,753.4 499.0,756.7 499.5,766.7 497.9,774.5 495.6,781.2 494.5,790.1 489.0,796.2 485.6,795.1 477.8,787.8 470.1,782.8 466.7,782.3 457.8,776.7 446.7,773.4 430.0,773.9 423.9,772.3 423.4,769.5 417.8,771.2 412.2,772.8 406.7,775.6 399.5,782.9 395.6,780.7 390.1,781.2 383.4,779.5 377.8,779.0 372.3,781.2 363.4,781.2 353.9,781.2 353.4,770.1 346.7,763.4 340.0,755.6 336.7,751.2 341.1,746.7 347.8,743.4 352.3,737.8 353.4,732.3 357.3,730.1 356.7,721.2 357.8,712.3 362.3,709.5 363.4,707.3 356.7,708.9 352.3,713.4 348.9,710.0 328.4,710.0 328.9,703.4 328.9,697.8 322.2,695.0 322.8,692.3 325.6,688.9 325.6,684.5 318.9,680.6 313.9,676.7 313.9,672.8 317.8,673.4 322.2,671.1 321.1,667.8 314.5,666.1 311.7,666.7 311.7,658.9 313.4,654.4 312.2,650.0 311.2,645.7 315.6,634.6 317.9,625.7 318.0,617.3Z" fill="#a6cde4"/>
<path d="M328.4,710.0 348.9,710.0 352.3,713.4 356.7,708.9 363.4,707.3 362.3,709.5 357.8,712.3 356.7,721.2 357.3,730.1 353.4,732.3 352.3,737.8 347.8,743.4 341.1,746.7 336.7,751.2 340.0,755.6 346.7,763.4 353.4,770.1 353.9,781.2 351.1,847.8 368.9,848.3 381.2,848.3 384.5,844.4 387.8,843.3 396.7,846.1 399.0,848.9 422.3,849.5 422.3,865.6 417.9,873.4 416.8,882.3 414.5,884.5 415.6,886.7 420.1,890.0 419.5,896.7 422.3,902.3 420.1,903.9 415.6,906.7 404.5,904.5 384.5,900.0 377.8,898.4 347.8,897.8 340.0,892.3 315.6,892.3 310.0,885.7 305.7,880.1 301.2,873.4 296.8,867.9 290.1,865.1 282.3,864.5 279.0,860.1 275.6,855.1 271.2,855.1 267.9,854.5 264.5,852.3 265.6,850.1 270.1,849.5 272.3,845.6 269.5,843.4 271.2,837.9 277.9,832.3 283.4,826.7 284.5,817.8 283.4,806.7 282.3,795.6 286.8,786.7 293.4,778.9 298.9,773.4 303.3,766.8 306.7,761.2 306.7,760.1 305.6,753.4 308.9,749.0 308.9,743.4 312.2,737.8 320.0,732.3 320.0,725.6 325.6,717.8 328.4,710.0Z" fill="#94c4df"/>
<path d="M353.9,781.2 363.4,781.2 372.3,781.2 377.8,779.0 383.4,779.5 390.1,781.2 395.6,780.7 399.5,782.9 406.7,775.6 412.2,772.8 417.8,771.2 423.4,769.5 423.9,772.3 430.0,773.9 446.7,773.4 457.8,776.7 466.7,782.3 470.1,782.8 477.8,787.8 485.6,795.1 489.0,796.2 494.5,790.1 497.9,795.6 500.1,803.4 500.6,810.1 510.1,812.3 513.4,815.6 511.2,822.3 508.4,831.2 509.0,835.7 516.8,837.9 519.0,843.4 520.1,850.0 520.1,856.9 529.0,865.8 534.4,872.3 541.1,881.2 542.2,886.7 547.8,896.7 550.0,901.2 550.0,907.9 555.6,912.3 553.9,920.1 552.2,923.4 546.7,923.4 541.1,917.9 534.4,915.6 530.0,912.3 524.5,912.3 511.2,908.9 504.5,910.0 497.8,903.4 490.0,900.0 477.8,912.3 468.9,920.1 464.5,917.8 462.2,910.0 451.1,906.7 446.8,906.7 442.3,911.2 436.8,907.8 431.2,903.9 422.3,902.3 419.5,896.7 420.1,890.0 415.6,886.7 414.5,884.5 416.8,882.3 417.9,873.4 422.3,865.6 422.3,849.5 399.0,848.9 396.7,846.1 387.8,843.3 384.5,844.4 381.2,848.3 368.9,848.3 351.1,847.8 353.9,781.2Z" fill="#999999"/>
<path d="M241.1,705.6 255.6,705.6 273.4,706.7 271.2,727.8 271.2,740.0 272.3,745.6 276.8,751.1 276.2,757.8 275.6,766.7 280.1,772.2 283.4,776.7 281.2,777.8 275.6,781.1 271.2,784.5 270.1,788.9 266.7,791.1 260.1,793.4 254.5,797.8 249.0,803.4 246.7,805.6 240.1,807.3 237.8,809.5 233.4,810.1 217.8,808.4 208.9,808.9 205.6,807.3 203.4,807.8 192.2,810.1 187.8,809.5 183.4,806.7 174.5,806.7 168.4,804.5 160.6,801.2 157.3,795.6 155.1,787.9 150.6,785.6 146.2,781.2 146.2,777.9 150.1,773.4 150.1,770.1 144.5,764.5 143.4,754.5 145.1,748.9 144.5,745.6 139.5,743.4 132.9,741.2 126.2,734.5 119.5,737.8 112.8,738.9 106.2,745.6 100.6,747.8 95.0,746.2 88.4,748.9 79.5,756.7 73.9,757.3 67.2,754.5 61.7,755.6 56.1,761.2 50.6,761.7 45.0,760.1 42.2,757.8 42.8,743.4 43.9,730.0 47.2,727.8 48.3,722.3 56.1,715.6 65.0,706.7 73.9,700.0 83.9,693.4 89.5,688.9 93.4,687.2 93.9,682.8 100.6,683.3 101.7,685.6 112.8,686.7 122.8,685.0 135.1,685.6 141.7,689.5 154.0,690.0 156.2,692.8 166.2,693.4 171.8,694.5 177.3,702.2 183.4,707.8 185.7,720.1 242.4,721.2Z" fill="#7fb7da"/>
<path d="M174.5,806.7 183.4,806.7 187.8,809.5 192.2,810.1 203.4,807.8 205.6,807.3 208.9,808.9 217.8,808.4 233.4,810.1 237.8,809.5 240.1,807.3 246.7,805.6 249.0,803.4 254.5,797.8 260.1,793.4 266.7,791.1 270.1,788.9 271.2,784.5 275.6,781.1 281.2,777.8 283.4,776.7 290.1,770.0 297.9,767.2 306.7,761.2 303.3,766.8 298.9,773.4 293.4,778.9 286.8,786.7 282.3,795.6 283.4,806.7 284.5,817.8 283.4,826.7 277.9,832.3 271.2,837.9 269.5,843.4 272.3,845.6 270.1,849.5 265.6,850.1 264.5,852.3 267.9,854.5 271.2,855.1 270.1,861.2 267.9,863.4 263.4,862.3 262.3,866.8 263.4,872.3 260.1,873.4 249.0,874.5 237.8,873.4 235.6,870.1 231.2,869.0 226.7,871.2 222.3,873.4 213.4,872.3 207.8,869.0 203.4,870.1 198.9,874.5 193.4,875.7 193.4,884.6 185.6,886.8 171.1,885.7 166.7,881.2 164.4,873.4 163.9,862.3 164.4,851.2 165.0,832.3 167.8,822.3 172.2,814.5 174.5,806.7Z" fill="#999999"/>
<path d="M869.3,1005 L869.3,995 L877,995 L877,993.6 L881.2,993.6 L886,1000 L886,1011.5 L880,1012 L869.3,1008Z" fill="#999999"/>
<use href="#borders"/>
<path d="M867.8,1011 L884,1011 L881,1016 L879,1025 L873,1029.3 L867.8,1023.4 L867.1,1017.4Z" fill="#000"/>
<text transform="translate(893.5,191.2) scale(0.98,1.02)" fill="#000">532</text>
<text transform="translate(929.0,486.8) scale(0.98,1.02)" fill="#000">530</text>
<text transform="translate(848.4,754.1) scale(0.98,1.02)" fill="#000">519</text>
<text transform="translate(969.6,739.0) scale(0.98,1.02)" fill="#fff">529</text>
<text transform="translate(962.4,864.0) scale(0.98,1.02)" fill="#fff">517</text>
<text transform="translate(829.7,872.9) scale(0.98,1.02)" fill="#000">512</text>
<text transform="translate(552.9,474.1) scale(0.98,1.02)" fill="#000">540</text>
<text transform="translate(580.0,645.6) scale(0.98,1.02)" fill="#000">541</text>
<text transform="translate(565.7,785.3) scale(0.98,1.02)" fill="#000">542</text>
<text transform="translate(629.0,896.7) scale(0.98,1.02)" fill="#000">511</text>
<text transform="translate(649.0,1029.0) scale(0.98,1.02)" fill="#000">510</text>
<text transform="translate(417.9,546.8) scale(0.98,1.02)" fill="#000">528</text>
<text transform="translate(278.4,659.1) scale(0.98,1.02)" fill="#000">527</text>
<text transform="translate(415.7,707.8) scale(0.98,1.02)" fill="#000">520</text>
<text transform="translate(337.9,841.3) scale(0.98,1.02)" fill="#000">523</text>
<text transform="translate(449.6,854.6) scale(0.98,1.02)" fill="#000">544</text>
<text transform="translate(174.0,759.0) scale(0.98,1.02)" fill="#000">526</text>
<text transform="translate(223.4,850.2) scale(0.98,1.02)" fill="#000">522</text>
<text transform="translate(853.8,966.8) scale(0.98,1.02)" fill="#000">515</text>
<text transform="translate(963.7,966.1) scale(0.98,1.02)" fill="#000">726</text>
<text transform="translate(804.0,1010.1) scale(0.98,1.02)" fill="#000">503</text>
<text transform="translate(961.5,1035.7) scale(0.98,1.02)" fill="#000">514</text>
<text transform="translate(789.8,1089.7) scale(0.98,1.02)" fill="#fff">504</text>
<text transform="translate(889.9,1090.6) scale(0.98,1.02)" fill="#000">502</text>
<text transform="translate(992.3,1080.2) scale(0.98,1.02)" fill="#000">501</text>
<text transform="translate(839.0,1161.1) scale(0.98,1.02)" fill="#fff">260</text>
<text transform="translate(914.6,1168.1) scale(0.98,1.02)" fill="#000">258</text>
<text transform="translate(1004.2,1152.1) scale(0.98,1.02)" fill="#fff">500</text>
<text transform="translate(814.5,1209.1) scale(0.98,1.02)" fill="#000">252</text>
<text transform="translate(910.6,1239.1) scale(0.98,1.02)" fill="#000">254</text>
<text transform="translate(997.7,1227.1) scale(0.98,1.02)" fill="#000">256</text>
<text transform="translate(742.9,535.5) scale(0.98,1.02)" fill="#000">531</text>
<text transform="translate(734.9,707.4) scale(0.98,1.02)" fill="#000">518</text>
<text transform="translate(718.5,876.5) scale(0.98,1.02)" fill="#000">516</text>
<text transform="translate(721.5,993.4) scale(0.98,1.02)" fill="#000">509</text>
<text transform="translate(875.0,1021.5) scale(0.98,1.02)" fill="#000">651</text>
<text transform="translate(891.5,1028.0) scale(0.98,1.02)" fill="#000">641</text>
</g>
<g transform="translate(1094,0)">
<path d="M757.8,100.0 965.7,86.7 974.5,206.8 962.4,219.0 960.2,225.7 954.6,232.3 949.0,236.8 941.3,243.5 940.1,246.8 933.5,244.6 930.1,242.2 923.4,250.0 922.3,255.6 917.9,263.4 914.5,272.3 915.6,276.7 910.1,281.1 906.2,285.6 906.7,295.6 899.0,302.3 893.4,305.6 887.8,306.7 887.8,310.1 884.5,313.4 877.8,317.8 871.2,321.7 866.7,322.3 863.9,320.1 863.4,316.2 860.0,314.0 860.6,310.6 863.4,308.4 866.7,307.3 864.5,305.6 865.0,300.1 866.2,293.9 868.4,290.0 872.3,287.3 873.4,283.4 871.2,281.1 865.6,280.0 862.3,276.7 856.7,273.4 852.3,270.0 848.9,265.6 848.9,258.9 849.5,254.5 847.3,252.2 846.7,247.8 847.8,242.2 850.0,238.3 852.3,234.0 847.9,231.8 841.7,230.7 839.0,228.4 840.6,224.0 842.8,221.2 848.4,219.5 849.5,216.8 848.4,214.0 845.6,211.2 844.5,206.8 843.4,200.1 842.3,193.4 842.8,186.7 844.0,182.3 843.4,174.5 844.0,168.9 845.6,165.6 845.6,161.2 844.0,157.8 840.6,156.7 837.8,152.8 834.5,150.0 834.0,145.0 836.2,142.3 835.1,137.8 833.4,133.9 829.5,131.1 828.9,127.2 817.8,126.7 812.3,127.8 804.5,127.2 801.1,130.0 797.8,130.6 795.0,130.0 794.5,126.1 792.3,123.9 786.7,122.8 783.4,120.0 779.5,116.7 773.4,113.9 766.7,108.9 762.2,104.5 758.3,105.0 756.9,102.2 757.8,100.0Z" fill="#999999"/>
<path d="M871.2,321.7 877.8,317.8 884.5,313.4 887.8,310.1 887.8,306.7 893.4,305.6 899.0,302.3 906.7,295.6 906.2,285.6 910.1,281.1 915.6,276.7 914.5,272.3 917.9,263.4 922.3,255.6 923.4,250.0 930.1,242.2 933.5,244.6 940.1,246.8 941.3,243.5 949.0,236.8 954.6,232.3 960.2,225.7 962.4,219.0 974.5,206.8 1007.7,661.3 1003.4,663.9 1000.1,662.8 995.6,660.6 991.2,661.1 986.7,660.6 983.4,662.2 976.7,662.2 970.1,661.1 963.4,658.3 956.7,656.1 951.2,654.4 946.7,656.1 938.9,660.0 934.5,665.6 928.9,672.2 924.5,674.5 916.7,676.7 910.0,675.6 902.2,672.8 891.1,672.8 884.4,670.0 890.0,673.4 882.3,671.7 876.8,667.8 874.0,664.5 873.0,652.3 871.2,638.9 875.1,660.0 872.9,649.0 871.2,635.6 867.9,626.8 866.7,619.0 861.7,613.4 854.5,601.2 849.5,594.5 848.4,587.8 849.5,585.6 850.1,580.1 845.6,573.4 843.4,567.8 842.8,560.0 843.9,554.5 844.5,543.4 846.7,540.0 852.3,532.2 856.7,524.5 856.2,514.4 857.8,513.4 861.7,509.0 864.5,504.5 866.7,499.0 867.8,491.2 869.0,486.8 869.0,472.3 867.8,467.9 862.3,462.3 859.5,457.8 860.6,452.3 864.5,447.8 867.8,442.3 867.3,436.7 864.5,430.6 864.0,420.0 864.0,411.1 860.1,408.4 856.7,405.6 857.8,401.1 853.4,402.2 853.4,398.9 850.1,394.5 849.5,388.9 846.7,384.5 845.6,376.7 845.6,376.8 843.9,372.3 844.5,369.0 843.4,365.7 847.8,365.7 850.0,361.2 853.4,359.0 856.7,359.0 860.0,362.3 861.2,360.1 862.3,356.8 865.6,354.0 870.1,353.4 872.3,350.1 876.7,346.8 877.8,344.5 882.3,344.5 885.6,342.3 885.6,337.9 889.0,334.0 887.8,330.6 884.5,332.3 880.1,335.1 875.6,331.7 878.9,330.1 877.8,327.9 873.4,324.5 871.2,321.7Z" fill="#3787c0"/>
<path d="M910.0,675.6 916.7,676.7 924.5,674.5 928.9,672.2 934.5,665.6 938.9,660.0 946.7,656.1 951.2,654.4 956.7,656.1 963.4,658.3 970.1,661.1 976.7,662.2 983.4,662.2 986.7,660.6 991.2,661.1 995.6,660.6 1000.1,662.8 1003.4,663.9 1007.7,661.3 1018.0,801.7 1014.6,802.2 1009.0,801.1 1006.8,796.7 1002.3,792.2 999.0,789.5 993.4,791.1 989.0,790.0 986.8,785.6 982.3,782.8 976.7,783.9 971.2,786.7 967.9,785.6 963.4,782.2 959.0,783.3 955.6,787.8 950.1,792.2 947.8,795.6 941.2,792.2 933.9,788.3 928.4,792.8 928.4,792.9 927.8,787.9 927.8,779.0 930.0,770.1 933.4,763.4 935.0,756.7 935.0,746.7 933.4,741.2 927.8,737.8 922.3,734.5 918.9,731.2 915.6,725.1 916.7,723.4 920.0,725.6 924.5,726.7 928.9,725.6 933.4,723.4 932.8,717.8 933.4,712.3 930.0,708.9 930.0,704.5 932.3,702.3 934.5,697.8 933.4,692.8 928.9,688.9 923.4,685.6 916.7,680.0 910.0,675.6Z" fill="#3a88c1"/>
<path d="M928.4,792.8 933.9,788.3 941.2,792.2 947.8,795.6 950.1,792.2 955.6,787.8 959.0,783.3 963.4,782.2 967.9,785.6 971.2,786.7 976.7,783.9 982.3,782.8 986.8,785.6 989.0,790.0 993.4,791.1 999.0,789.5 1002.3,792.2 1006.8,796.7 1009.0,801.1 1014.6,802.2 1018.0,801.7 1024.6,892.3 997.9,894.0 984.5,895.6 984.5,897.9 981.2,900.1 975.6,902.3 947.8,903.4 925.6,905.6 895.6,907.3 888.9,906.8 890.0,897.9 891.7,890.1 892.8,882.3 896.1,879.0 902.2,876.7 905.0,874.5 904.5,869.0 902.8,865.6 904.5,862.3 908.9,857.8 914.5,855.6 912.8,851.2 911.7,844.5 911.7,840.0 915.6,832.3 921.1,827.8 925.6,825.6 927.8,821.1 931.2,813.4 928.9,805.6 928.4,792.8Z" fill="#2171b5"/>
<path d="M874.0,664.5 876.8,667.8 882.3,671.7 890.0,673.4 884.4,670.0 891.1,672.8 902.2,672.8 910.0,675.6 916.7,680.0 923.4,685.6 928.9,688.9 933.4,692.8 934.5,697.8 932.3,702.3 930.0,704.5 930.0,708.9 933.4,712.3 932.8,717.8 933.4,723.4 928.9,725.6 924.5,726.7 920.0,725.6 916.7,723.4 915.6,725.1 918.9,731.2 922.3,734.5 927.8,737.8 933.4,741.2 935.0,746.7 935.0,756.7 933.4,763.4 930.0,770.1 927.8,779.0 927.8,787.9 928.4,792.9 902.2,793.4 810.0,797.8 759.5,800.0 759.5,796.8 761.7,793.4 761.7,787.9 760.0,783.4 763.4,781.2 765.6,773.4 767.8,767.9 771.7,763.4 768.9,756.7 765.6,747.9 761.1,739.0 756.7,732.3 754.5,725.6 748.9,721.7 753.3,715.6 756.7,712.3 759.5,708.9 761.1,705.6 766.7,707.8 771.1,706.2 777.8,705.0 779.5,701.1 781.1,697.8 784.5,697.8 786.7,696.1 788.9,698.4 793.4,697.8 796.7,700.0 801.2,700.0 806.7,697.3 813.4,695.0 816.7,691.7 822.3,691.1 825.6,692.8 829.0,692.3 830.6,689.5 833.4,693.9 836.7,692.8 840.1,688.4 844.5,686.1 850.1,684.5 854.5,680.6 857.9,677.8 862.3,675.0 866.8,671.7 871.2,667.8 874.0,664.5Z" fill="#dce9f6"/>
<path d="M622.4,437.9 740.0,435.0 807.8,432.8 830.0,431.7 850.1,430.6 864.5,430.6 867.3,436.7 867.8,442.3 864.5,447.8 860.6,452.3 859.5,457.8 862.3,462.3 867.8,467.9 869.0,472.3 869.0,486.8 867.8,491.2 866.7,499.0 864.5,504.5 861.7,509.0 857.8,513.4 856.2,514.4 856.7,524.5 852.3,532.2 846.7,540.0 844.5,543.4 843.9,554.5 842.8,560.0 843.4,567.8 845.6,573.4 850.1,580.1 849.5,585.6 848.4,587.8 849.5,594.5 854.5,601.2 861.7,613.4 847.8,612.9 825.6,614.0 803.4,615.1 750.6,617.2 717.3,618.3 680.6,619.5 638.3,620.0 639.5,615.6 635.6,612.2 633.3,607.8 635.6,604.4 633.5,601.3 635.7,585.7 649.0,572.4 662.4,568.0 662.4,559.1 623.5,559.1 622.4,437.9Z" fill="#092f6b"/>
<path d="M452.2,373.4 457.8,377.8 462.2,385.6 467.8,387.8 473.4,385.6 475.6,380.0 480.0,378.9 486.7,383.4 490.0,390.0 495.6,390.0 504.5,394.5 513.4,390.0 524.5,387.8 535.6,390.0 542.3,387.8 550.1,381.1 554.5,378.9 564.5,377.8 567.9,370.0 569.0,366.7 576.8,358.9 586.8,357.8 595.7,350.0 604.6,341.1 620.1,338.9 622.4,437.9 623.5,559.1 498.3,559.1 494.5,550.2 494.5,534.6 498.9,525.7 494.5,507.9 498.9,490.1 494.5,474.6 484.5,472.3 480.0,467.9 473.4,447.9 471.1,434.5 462.2,427.9 457.8,412.3 452.2,405.6 452.2,396.7 452.2,373.4Z" fill="#999999"/>
<path d="M638.3,620.0 680.6,619.5 717.3,618.3 750.6,617.2 803.4,615.1 825.6,614.0 847.8,612.9 861.7,613.4 866.7,619.0 867.9,626.8 871.2,635.6 872.9,649.0 875.1,660.0 871.2,638.9 873.0,652.3 874.0,664.5 871.2,667.8 866.8,671.7 862.3,675.0 857.9,677.8 854.5,680.6 850.1,684.5 844.5,686.1 840.1,688.4 836.7,692.8 833.4,693.9 830.6,689.5 829.0,692.3 825.6,692.8 822.3,691.1 816.7,691.7 813.4,695.0 806.7,697.3 801.2,700.0 796.7,700.0 793.4,697.8 788.9,698.4 786.7,696.1 784.5,697.8 781.1,697.8 779.5,701.1 777.8,705.0 771.1,706.2 766.7,707.8 761.1,705.6 759.5,708.9 756.7,712.3 753.3,715.6 748.9,721.7 754.5,725.6 756.7,732.3 761.1,739.0 765.6,747.9 768.9,756.7 771.7,763.4 767.8,767.9 765.6,773.4 763.4,781.2 760.0,783.4 761.7,787.9 761.7,793.4 759.5,796.8 759.5,800.0 726.7,801.1 693.4,801.7 641.2,802.0 638.4,803.9 636.2,803.3 636.7,800.0 634.0,797.2 636.7,794.4 635.6,790.0 640.1,779.0 644.6,767.9 641.7,750.0 644.5,744.6 647.2,741.2 650.6,736.8 650.0,731.2 650.6,724.5 653.9,722.3 656.1,717.9 656.1,711.2 656.7,707.3 659.5,703.4 663.4,699.0 662.8,696.7 657.8,692.8 657.2,690.1 660.6,686.7 665.0,682.3 665.6,677.8 665.0,671.2 663.9,666.7 659.5,662.3 658.4,655.6 654.5,651.1 647.2,650.6 646.1,652.3 643.9,653.4 641.7,648.9 638.3,646.7 635.0,643.4 632.2,637.8 632.2,633.4 635.6,630.0 637.2,626.7 638.3,620.0Z" fill="#092f6b"/>
<path d="M498.3,559.1 623.5,559.1 662.4,559.1 662.4,568.0 649.0,572.4 635.7,585.7 633.5,601.3 635.6,604.4 633.3,607.8 635.6,612.2 639.5,615.6 638.3,620.0 637.2,626.7 635.6,630.0 632.2,633.4 632.2,637.8 635.0,643.4 638.3,646.7 641.7,648.9 643.9,653.4 646.1,652.3 647.2,650.6 654.5,651.1 658.4,655.6 659.5,662.3 663.9,666.7 665.0,671.2 665.6,677.8 665.0,682.3 660.6,686.7 657.2,690.1 657.8,692.8 662.8,696.7 663.4,699.0 659.5,703.4 656.7,707.3 656.1,711.2 647.2,711.2 572.3,712.3 569.0,705.6 571.2,710.0 569.0,703.4 566.2,697.9 566.7,689.5 570.1,686.8 570.1,682.3 570.1,674.5 565.6,669.5 562.3,669.0 557.8,672.3 543.4,671.7 535.6,671.2 533.4,673.4 526.7,682.9 520.0,683.4 516.7,685.6 517.2,693.4 514.5,699.0 507.8,700.1 500.0,702.3 499.5,690.1 499.5,680.1 500.6,670.1 502.2,662.3 505.6,651.2 507.8,641.2 510.0,633.4 513.4,625.6 516.7,621.2 520.0,614.5 519.5,604.5 518.4,593.4 510.0,586.1 502.2,584.5 496.7,580.0 496.1,572.2 494.5,566.7 492.3,556.8 498.3,559.1Z" fill="#0d4f97"/>
<path d="M500.0,702.3 507.8,700.1 514.5,699.0 517.2,693.4 516.7,685.6 520.0,683.4 526.7,682.9 533.4,673.4 535.6,671.2 543.4,671.7 557.8,672.3 562.3,669.0 565.6,669.5 570.1,674.5 570.1,682.3 570.1,686.8 566.7,689.5 566.2,697.9 569.0,703.4 571.2,710.0 569.0,705.6 572.3,712.3 647.2,711.2 656.1,711.2 656.1,717.9 653.9,722.3 650.6,724.5 650.0,731.2 650.6,736.8 647.2,741.2 644.5,744.6 641.7,750.0 644.6,767.9 640.1,779.0 635.6,790.0 636.7,794.4 634.0,797.2 636.7,800.0 636.2,803.3 638.4,803.9 643.4,809.5 636.7,813.9 626.7,816.1 610.1,831.1 607.8,838.9 605.6,842.3 594.5,843.4 590.0,846.7 588.9,852.3 581.1,855.6 577.8,860.1 565.6,862.3 550.0,871.2 546.7,877.8 541.1,881.2 534.4,872.3 529.0,865.8 520.1,856.9 520.1,850.0 519.0,843.4 516.8,837.9 509.0,835.7 508.4,831.2 511.2,822.3 513.4,815.6 510.1,812.3 500.6,810.1 500.1,803.4 497.9,795.6 494.5,790.1 495.6,781.2 497.9,774.5 499.5,766.7 499.0,756.7 494.5,753.4 492.3,747.8 492.8,741.1 495.6,733.4 498.4,725.6 496.7,718.9 497.9,711.1 499.5,704.4 500.0,702.3Z" fill="#cfe1f2"/>
<path d="M638.4,803.9 641.2,802.0 693.4,801.7 726.7,801.1 759.5,800.0 759.5,805.6 762.3,808.9 756.7,812.2 756.7,815.6 760.1,824.5 761.7,830.0 762.3,840.0 765.1,843.4 760.1,846.7 755.6,850.6 751.2,853.4 747.8,857.8 747.8,862.3 749.5,866.7 750.1,871.2 750.1,880.1 746.7,882.3 750.6,885.6 750.6,891.2 753.4,897.9 756.2,907.9 759.0,914.5 757.9,920.1 752.3,923.4 749.0,926.8 749.0,930.0 746.0,931.9 746.7,939.3 743.0,948.2 740.8,957.8 740.0,956.6 733.7,949.0 726.1,943.3 716.1,940.2 709.7,937.6 710.0,930.0 707.8,927.9 703.4,924.6 701.1,919.0 697.8,915.7 693.9,909.0 692.8,900.1 687.8,895.6 682.2,891.2 680.6,884.5 680.0,875.6 682.2,871.2 688.4,864.5 690.0,856.7 687.2,851.2 685.0,842.3 683.9,832.3 682.2,824.5 685.6,824.5 685.6,815.6 663.3,815.6 656.8,816.7 652.3,812.2 643.4,809.5 638.4,803.9Z" fill="#a9cfe5"/>
<path d="M928.4,792.8 928.9,805.6 931.2,813.4 927.8,821.1 925.6,825.6 921.1,827.8 915.6,832.3 911.7,840.0 911.7,844.5 912.8,851.2 914.5,855.6 908.9,857.8 904.5,862.3 902.8,865.6 904.5,869.0 905.0,874.5 902.2,876.7 896.1,879.0 892.8,882.3 891.7,890.1 890.0,897.9 888.9,906.8 886.7,914.5 882.2,916.2 870.0,916.8 851.2,917.8 794.9,921.8 764.5,920.3 765.3,921.5 766.7,952.6 777.1,956.4 766.7,958.6 762.3,963.0 756.4,969.0 749.0,964.5 740.8,957.8 743.0,948.2 746.7,939.3 746.0,931.9 749.0,930.0 749.0,926.8 752.3,923.4 757.9,920.1 759.0,914.5 756.2,907.9 753.4,897.9 750.6,891.2 750.6,885.6 746.7,882.3 750.1,880.1 750.1,871.2 749.5,866.7 747.8,862.3 747.8,857.8 751.2,853.4 755.6,850.6 760.1,846.7 765.1,843.4 762.3,840.0 761.7,830.0 760.1,824.5 756.7,815.6 756.7,812.2 762.3,808.9 759.5,805.6 759.5,800.0 810.0,797.8 902.2,793.4 928.4,792.9Z" fill="#d2e3f3"/>
<path d="M643.4,809.5 636.7,813.9 626.7,816.1 610.1,831.1 607.8,838.9 605.6,842.3 594.5,843.4 590.0,846.7 588.9,852.3 581.1,855.6 577.8,860.1 565.6,862.3 550.0,871.2 546.7,877.8 541.1,881.2 542.2,886.7 547.8,896.7 550.0,901.2 550.0,907.9 555.6,912.3 553.9,920.1 552.2,923.4 560.0,926.8 566.7,923.4 574.5,923.4 583.4,925.7 590.0,927.9 598.9,929.0 607.8,933.4 616.7,937.9 619.0,940.0 622.8,945.2 637.9,944.6 640.4,940.2 648.0,933.2 655.5,930.7 661.8,931.3 664.4,936.4 666.9,938.9 694.6,938.9 700.9,941.4 706.0,940.2 709.7,937.6 710.0,930.0 707.8,927.9 703.4,924.6 701.1,919.0 697.8,915.7 693.9,909.0 692.8,900.1 687.8,895.6 682.2,891.2 680.6,884.5 680.0,875.6 682.2,871.2 688.4,864.5 690.0,856.7 687.2,851.2 685.0,842.3 683.9,832.3 682.2,824.5 685.6,824.5 685.6,815.6 663.3,815.6 656.8,816.7 652.3,812.2 643.4,809.5Z" fill="#a9cfe5"/>
<path d="M666.9,938.9 694.6,938.9 700.9,941.4 706.0,940.2 709.7,937.6 716.1,940.2 726.1,943.3 733.7,949.0 740.0,956.6 740.8,957.8 749.0,964.5 756.4,969.0 762.3,963.0 766.7,958.6 777.1,956.4 778.6,958.6 778.6,969.0 782.3,976.4 778.6,982.3 775.6,988.2 774.2,1001.6 753.4,1003.1 750.4,1007.5 750.4,1018.6 714.9,1020.1 716.1,1018.3 711.0,1020.8 700.9,1024.6 698.4,1020.8 690.8,1018.3 684.5,1015.8 683.3,1007.0 685.8,1003.2 687.1,995.6 688.3,985.5 683.3,976.7 680.8,966.6 678.2,961.6 670.7,957.8 669.4,952.8 671.9,950.3 670.7,945.2 666.9,938.9Z" fill="#dfebf7"/>
<path d="M666.9,938.9 664.4,936.4 661.8,931.3 655.5,930.7 648.0,933.2 640.4,940.2 637.9,944.6 622.8,945.2 622.8,951.5 619.0,959.1 617.7,966.6 612.7,970.4 610.8,981.8 610.2,990.6 610.2,999.4 603.9,1005.7 601.3,1012.0 600.1,1024.6 598.2,1033.4 596.3,1048.6 596.3,1062.4 629.1,1062.4 632.9,1068.7 634.1,1073.8 637.9,1078.8 645.5,1086.4 659.3,1087.6 671.9,1084.5 680.8,1083.9 682.0,1075.0 690.8,1070.0 692.1,1058.7 694.6,1047.3 698.4,1043.5 700.9,1033.4 700.9,1024.6 698.4,1020.8 690.8,1018.3 684.5,1015.8 683.3,1007.0 685.8,1003.2 687.1,995.6 688.3,985.5 683.3,976.7 680.8,966.6 678.2,961.6 670.7,957.8 669.4,952.8 671.9,950.3 670.7,945.2 666.9,938.9Z" fill="#999999"/>
<path d="M764.5,920.3 794.9,921.8 799.4,958.6 823.1,969.0 837.9,983.8 851.3,986.7 846.8,998.6 851.3,1006.0 869.7,1008.0 869.7,995.2 878.5,994.5 884.5,998.0 881.5,1011.5 877.0,1031.5 877.0,1032.0 844.1,1036.0 844.1,1037.6 834.9,1043.0 834.9,1043.1 790.5,1041.6 789.0,1035.7 768.2,1035.7 762.3,1043.1 751.2,1043.1 750.4,1018.6 750.4,1007.5 753.4,1003.1 774.2,1001.6 775.6,988.2 778.6,982.3 782.3,976.4 778.6,969.0 778.6,958.6 777.1,956.4 766.7,952.6 765.3,921.5 764.5,920.3Z" fill="#f4f9fe"/>
<path d="M888.9,906.8 895.6,907.3 896.1,930.0 899.0,970.0 900.0,987.0 884.5,987.8 884.5,998.0 878.5,994.5 869.7,995.2 869.7,1008.0 851.3,1006.0 846.8,998.6 851.3,986.7 837.9,983.8 823.1,969.0 799.4,958.6 794.9,921.8 851.2,917.8 870.0,916.8 882.2,916.2 886.7,914.5 888.9,906.8Z" fill="#f4f9fe"/>
<path d="M895.6,907.3 925.6,905.6 947.8,903.4 975.6,902.3 981.2,900.1 984.5,897.9 984.5,895.6 997.9,894.0 1024.6,892.3 1032.6,1001.2 1025.4,1001.5 1022.8,999.5 940.0,1004.8 900.8,1006.3 900.0,987.0 899.0,970.0 896.1,930.0 895.6,907.3Z" fill="#f7fbff"/>
<path d="M900.0,987.0 900.8,1006.3 901.5,1024.9 901.5,1035.2 886.0,1036.7 885.2,1040.4 877.0,1040.4 877.0,1032.0 877.0,1031.5 881.5,1011.5 884.5,998.0 884.5,987.8 900.0,987.0Z" fill="#999999"/>
<path d="M900.8,1006.3 940.0,1004.8 1022.8,999.5 1025.4,1001.5 1032.6,1001.2 1034.2,1022.9 1026.3,1023.8 1024.6,1022.0 1018.3,1021.1 1010.3,1038.5 983.6,1040.7 973.8,1046.0 965.8,1045.2 961.4,1038.0 954.3,1044.3 949.8,1038.0 944.5,1039.8 940.1,1038.0 921.5,1036.5 910.4,1041.2 896.3,1053.0 885.2,1053.8 885.2,1040.4 886.0,1036.7 901.5,1035.2 901.5,1024.9 900.8,1006.3Z" fill="#999999"/>
<path d="M834.9,1043.0 844.1,1037.6 844.1,1036.0 877.0,1032.0 877.0,1040.4 885.2,1040.4 885.2,1053.8 896.3,1053.0 910.4,1041.2 921.5,1036.5 940.1,1038.0 940.1,1054.0 937.1,1057.0 940.1,1060.0 960.1,1060.0 961.1,1090.1 955.1,1094.1 953.1,1104.1 947.4,1107.6 945.5,1107.6 917.8,1108.2 895.0,1107.8 882.9,1113.4 879.0,1118.9 857.3,1117.8 854.0,1118.9 837.3,1124.5 833.4,1122.8 831.1,1080.0 832.1,1060.0 836.1,1052.0 834.9,1043.0Z" fill="#999999"/>
<path d="M940.1,1038.0 944.5,1039.8 949.8,1038.0 954.3,1044.3 961.4,1038.0 965.8,1045.2 973.8,1046.0 983.6,1040.7 1010.3,1038.5 1018.3,1021.1 1024.6,1022.0 1026.3,1023.8 1034.2,1022.9 1039.2,1091.9 1000.5,1092.3 1000.5,1088.8 977.4,1089.6 978.9,1100.0 979.6,1118.9 975.8,1120.2 965.7,1117.6 958.2,1116.4 950.0,1118.3 948.1,1116.4 947.4,1107.6 953.1,1104.1 955.1,1094.1 961.1,1090.1 960.1,1060.0 940.1,1060.0 937.1,1057.0 940.1,1054.0 940.1,1038.0Z" fill="#999999"/>
<path d="M751.2,1043.1 762.3,1043.1 768.2,1035.7 789.0,1035.7 790.5,1041.6 834.9,1043.1 834.9,1043.0 836.1,1052.0 832.1,1060.0 831.1,1080.0 833.4,1122.8 818.4,1122.3 808.4,1124.5 787.8,1123.9 782.8,1118.9 778.4,1113.4 777.2,1105.6 770.6,1100.0 762.8,1095.6 759.5,1090.0 760.0,1090.1 740.0,1090.1 737.1,1080.0 737.1,1043.8 751.2,1043.1Z" fill="#3a89c1"/>
<path d="M787.8,1123.9 808.4,1124.5 818.4,1122.3 833.4,1122.8 837.3,1124.5 854.0,1118.9 857.3,1117.8 879.0,1118.9 881.8,1131.1 884.0,1156.7 870.6,1160.1 869.5,1190.6 862.9,1192.3 858.4,1190.1 852.9,1185.6 848.4,1182.3 838.4,1182.3 829.5,1174.5 819.5,1169.0 810.6,1163.4 791.1,1162.8 789.5,1146.7 787.8,1123.9Z" fill="#f7fbff"/>
<path d="M879.0,1118.9 882.9,1113.4 895.0,1107.8 917.8,1108.2 945.5,1107.6 947.4,1107.6 948.1,1116.4 950.0,1118.3 951.8,1131.5 951.2,1144.1 952.5,1163.0 953.1,1164.3 954.4,1181.9 956.3,1197.1 940.5,1197.1 911.5,1198.9 895.0,1197.9 884.0,1195.6 876.2,1192.3 869.5,1190.6 870.6,1160.1 884.0,1156.7 881.8,1131.1 879.0,1118.9Z" fill="#86bcdc"/>
<path d="M950.0,1118.3 958.2,1116.4 965.7,1117.6 975.8,1120.2 979.6,1118.9 978.9,1100.0 977.4,1089.6 1000.5,1088.8 1000.5,1092.3 1039.2,1091.9 1047.1,1199.6 1037.6,1197.1 1031.3,1193.3 1025.0,1185.7 1018.7,1187.0 1012.4,1193.3 1007.3,1188.2 1001.0,1180.7 996.0,1176.9 989.7,1174.4 987.1,1169.3 978.3,1161.1 970.8,1164.9 961.9,1161.8 953.1,1164.3 952.5,1163.0 951.2,1144.1 951.8,1131.5 950.0,1118.3Z" fill="#0b4d94"/>
<path d="M953.1,1164.3 961.9,1161.8 970.8,1164.9 978.3,1161.1 987.1,1169.3 989.7,1174.4 996.0,1176.9 1001.0,1180.7 1007.3,1188.2 1012.4,1193.3 1018.7,1187.0 1025.0,1185.7 1031.3,1193.3 1037.6,1197.1 1047.1,1199.6 1051.4,1258.4 1048.9,1257.6 1031.3,1257.6 1011.1,1248.1 980.8,1249.4 960.0,1251.3 958.2,1226.1 956.3,1197.1 954.4,1181.9 953.1,1164.3Z" fill="#999999"/>
<path d="M869.5,1190.6 876.2,1192.3 884.0,1195.6 895.0,1197.9 911.5,1198.9 940.5,1197.1 956.3,1197.1 958.2,1226.1 960.0,1251.3 948.1,1252.5 932.9,1255.0 915.3,1257.6 906.5,1261.3 892.1,1250.2 880.1,1244.1 870.1,1242.1 862.1,1238.1 862.9,1230.0 861.8,1224.6 864.0,1213.4 864.5,1194.5 869.5,1190.6Z" fill="#999999"/>
<path d="M758.3,1165.1 778.4,1163.4 791.1,1162.8 810.6,1163.4 819.5,1169.0 829.5,1174.5 838.4,1182.3 848.4,1182.3 852.9,1185.6 858.4,1190.1 862.9,1192.3 869.5,1190.6 864.5,1194.5 864.0,1213.4 861.8,1224.6 862.9,1230.0 862.1,1238.1 850.1,1236.1 840.1,1232.1 828.1,1234.1 829.5,1230.0 822.8,1225.7 813.9,1223.4 807.3,1219.0 800.6,1213.4 789.5,1207.9 772.8,1196.8 758.3,1189.0 758.3,1165.1Z" fill="#999999"/>
<path d="M452.2,405.6 457.8,412.3 462.2,427.9 471.1,434.5 473.4,447.9 480.0,467.9 484.5,472.3 494.5,474.6 498.9,490.1 494.5,507.9 498.9,525.7 494.5,534.6 494.5,550.2 498.3,559.1 492.3,556.8 494.5,566.7 496.1,572.2 496.7,580.0 502.2,584.5 510.0,586.1 518.4,593.4 519.5,604.5 520.0,614.5 516.7,621.2 500.0,621.3 318.0,617.3 318.7,613.3 324.0,612.0 324.0,609.3 318.7,607.3 313.3,605.3 314.7,601.3 325.3,599.3 330.7,597.3 332.0,593.3 332.0,586.7 334.0,581.3 334.7,576.0 332.0,574.7 326.7,573.3 326.7,570.7 327.3,568.0 328.7,562.7 332.0,556.0 334.7,552.0 338.7,548.7 338.7,545.3 338.0,539.3 333.3,538.0 329.3,536.0 330.0,533.3 336.0,532.0 344.0,532.0 349.3,530.7 350.0,525.3 346.7,521.3 340.0,520.0 334.7,518.7 333.3,514.7 335.3,510.7 338.7,506.7 337.3,502.7 332.7,499.3 332.0,496.0 334.7,493.3 338.7,496.0 342.7,495.3 343.3,490.7 341.3,488.0 334.7,486.7 331.3,484.7 333.3,481.3 338.7,480.0 342.7,478.0 341.3,476.0 337.3,470.7 332.7,465.3 330.0,460.0 331.3,453.3 334.7,450.7 405.7,453.4 407.9,443.4 413.5,435.6 424.6,432.3 426.8,425.6 438.0,423.4 442.4,414.5 444.6,407.8 452.0,405.6Z" fill="#7fb7da"/>
<path d="M224.5,553.5 332.0,556.0 328.7,562.7 327.3,568.0 326.7,570.7 326.7,573.3 332.0,574.7 334.7,576.0 334.0,581.3 332.0,586.7 332.0,593.3 330.7,597.3 325.3,599.3 314.7,601.3 313.3,605.3 318.7,607.3 324.0,609.3 324.0,612.0 318.7,613.3 318.0,617.3 317.9,625.7 315.6,634.6 311.2,645.7 312.2,650.0 313.4,654.4 311.7,658.9 311.7,666.7 314.5,666.1 321.1,667.8 322.2,671.1 317.8,673.4 313.9,672.8 313.9,676.7 318.9,680.6 325.6,684.5 325.6,688.9 322.8,692.3 322.2,695.0 328.9,697.8 328.9,703.4 328.4,710.0 325.6,717.8 320.0,725.6 320.0,732.3 312.2,737.8 308.9,743.4 308.9,749.0 305.6,753.4 306.7,760.1 306.7,761.2 297.9,767.2 290.1,770.0 283.4,776.7 280.1,772.2 275.6,766.7 276.2,757.8 276.8,751.1 272.3,745.6 271.2,740.0 271.2,727.8 273.4,706.7 255.6,705.6 241.1,705.6 236.7,690.0 232.2,663.3 235.6,690.0 228.9,616.8 224.5,553.5Z" fill="#dce9f6"/>
<path d="M318.0,617.3 500.0,621.3 516.7,621.2 513.4,625.6 510.0,633.4 507.8,641.2 505.6,651.2 502.2,662.3 500.6,670.1 499.5,680.1 499.5,690.1 500.0,702.3 499.5,704.4 497.9,711.1 496.7,718.9 498.4,725.6 495.6,733.4 492.8,741.1 492.3,747.8 494.5,753.4 499.0,756.7 499.5,766.7 497.9,774.5 495.6,781.2 494.5,790.1 489.0,796.2 485.6,795.1 477.8,787.8 470.1,782.8 466.7,782.3 457.8,776.7 446.7,773.4 430.0,773.9 423.9,772.3 423.4,769.5 417.8,771.2 412.2,772.8 406.7,775.6 399.5,782.9 395.6,780.7 390.1,781.2 383.4,779.5 377.8,779.0 372.3,781.2 363.4,781.2 353.9,781.2 353.4,770.1 346.7,763.4 340.0,755.6 336.7,751.2 341.1,746.7 347.8,743.4 352.3,737.8 353.4,732.3 357.3,730.1 356.7,721.2 357.8,712.3 362.3,709.5 363.4,707.3 356.7,708.9 352.3,713.4 348.9,710.0 328.4,710.0 328.9,703.4 328.9,697.8 322.2,695.0 322.8,692.3 325.6,688.9 325.6,684.5 318.9,680.6 313.9,676.7 313.9,672.8 317.8,673.4 322.2,671.1 321.1,667.8 314.5,666.1 311.7,666.7 311.7,658.9 313.4,654.4 312.2,650.0 311.2,645.7 315.6,634.6 317.9,625.7 318.0,617.3Z" fill="#0b4d94"/>
<path d="M328.4,710.0 348.9,710.0 352.3,713.4 356.7,708.9 363.4,707.3 362.3,709.5 357.8,712.3 356.7,721.2 357.3,730.1 353.4,732.3 352.3,737.8 347.8,743.4 341.1,746.7 336.7,751.2 340.0,755.6 346.7,763.4 353.4,770.1 353.9,781.2 351.1,847.8 368.9,848.3 381.2,848.3 384.5,844.4 387.8,843.3 396.7,846.1 399.0,848.9 422.3,849.5 422.3,865.6 417.9,873.4 416.8,882.3 414.5,884.5 415.6,886.7 420.1,890.0 419.5,896.7 422.3,902.3 420.1,903.9 415.6,906.7 404.5,904.5 384.5,900.0 377.8,898.4 347.8,897.8 340.0,892.3 315.6,892.3 310.0,885.7 305.7,880.1 301.2,873.4 296.8,867.9 290.1,865.1 282.3,864.5 279.0,860.1 275.6,855.1 271.2,855.1 267.9,854.5 264.5,852.3 265.6,850.1 270.1,849.5 272.3,845.6 269.5,843.4 271.2,837.9 277.9,832.3 283.4,826.7 284.5,817.8 283.4,806.7 282.3,795.6 286.8,786.7 293.4,778.9 298.9,773.4 303.3,766.8 306.7,761.2 306.7,760.1 305.6,753.4 308.9,749.0 308.9,743.4 312.2,737.8 320.0,732.3 320.0,725.6 325.6,717.8 328.4,710.0Z" fill="#f4f9fe"/>
<path d="M353.9,781.2 363.4,781.2 372.3,781.2 377.8,779.0 383.4,779.5 390.1,781.2 395.6,780.7 399.5,782.9 406.7,775.6 412.2,772.8 417.8,771.2 423.4,769.5 423.9,772.3 430.0,773.9 446.7,773.4 457.8,776.7 466.7,782.3 470.1,782.8 477.8,787.8 485.6,795.1 489.0,796.2 494.5,790.1 497.9,795.6 500.1,803.4 500.6,810.1 510.1,812.3 513.4,815.6 511.2,822.3 508.4,831.2 509.0,835.7 516.8,837.9 519.0,843.4 520.1,850.0 520.1,856.9 529.0,865.8 534.4,872.3 541.1,881.2 542.2,886.7 547.8,896.7 550.0,901.2 550.0,907.9 555.6,912.3 553.9,920.1 552.2,923.4 546.7,923.4 541.1,917.9 534.4,915.6 530.0,912.3 524.5,912.3 511.2,908.9 504.5,910.0 497.8,903.4 490.0,900.0 477.8,912.3 468.9,920.1 464.5,917.8 462.2,910.0 451.1,906.7 446.8,906.7 442.3,911.2 436.8,907.8 431.2,903.9 422.3,902.3 419.5,896.7 420.1,890.0 415.6,886.7 414.5,884.5 416.8,882.3 417.9,873.4 422.3,865.6 422.3,849.5 399.0,848.9 396.7,846.1 387.8,843.3 384.5,844.4 381.2,848.3 368.9,848.3 351.1,847.8 353.9,781.2Z" fill="#999999"/>
<path d="M241.1,705.6 255.6,705.6 273.4,706.7 271.2,727.8 271.2,740.0 272.3,745.6 276.8,751.1 276.2,757.8 275.6,766.7 280.1,772.2 283.4,776.7 281.2,777.8 275.6,781.1 271.2,784.5 270.1,788.9 266.7,791.1 260.1,793.4 254.5,797.8 249.0,803.4 246.7,805.6 240.1,807.3 237.8,809.5 233.4,810.1 217.8,808.4 208.9,808.9 205.6,807.3 203.4,807.8 192.2,810.1 187.8,809.5 183.4,806.7 174.5,806.7 168.4,804.5 160.6,801.2 157.3,795.6 155.1,787.9 150.6,785.6 146.2,781.2 146.2,777.9 150.1,773.4 150.1,770.1 144.5,764.5 143.4,754.5 145.1,748.9 144.5,745.6 139.5,743.4 132.9,741.2 126.2,734.5 119.5,737.8 112.8,738.9 106.2,745.6 100.6,747.8 95.0,746.2 88.4,748.9 79.5,756.7 73.9,757.3 67.2,754.5 61.7,755.6 56.1,761.2 50.6,761.7 45.0,760.1 42.2,757.8 42.8,743.4 43.9,730.0 47.2,727.8 48.3,722.3 56.1,715.6 65.0,706.7 73.9,700.0 83.9,693.4 89.5,688.9 93.4,687.2 93.9,682.8 100.6,683.3 101.7,685.6 112.8,686.7 122.8,685.0 135.1,685.6 141.7,689.5 154.0,690.0 156.2,692.8 166.2,693.4 171.8,694.5 177.3,702.2 183.4,707.8 185.7,720.1 242.4,721.2Z" fill="#3787c0"/>
<path d="M174.5,806.7 183.4,806.7 187.8,809.5 192.2,810.1 203.4,807.8 205.6,807.3 208.9,808.9 217.8,808.4 233.4,810.1 237.8,809.5 240.1,807.3 246.7,805.6 249.0,803.4 254.5,797.8 260.1,793.4 266.7,791.1 270.1,788.9 271.2,784.5 275.6,781.1 281.2,777.8 283.4,776.7 290.1,770.0 297.9,767.2 306.7,761.2 303.3,766.8 298.9,773.4 293.4,778.9 286.8,786.7 282.3,795.6 283.4,806.7 284.5,817.8 283.4,826.7 277.9,832.3 271.2,837.9 269.5,843.4 272.3,845.6 270.1,849.5 265.6,850.1 264.5,852.3 267.9,854.5 271.2,855.1 270.1,861.2 267.9,863.4 263.4,862.3 262.3,866.8 263.4,872.3 260.1,873.4 249.0,874.5 237.8,873.4 235.6,870.1 231.2,869.0 226.7,871.2 222.3,873.4 213.4,872.3 207.8,869.0 203.4,870.1 198.9,874.5 193.4,875.7 193.4,884.6 185.6,886.8 171.1,885.7 166.7,881.2 164.4,873.4 163.9,862.3 164.4,851.2 165.0,832.3 167.8,822.3 172.2,814.5 174.5,806.7Z" fill="#999999"/>
<path d="M869.3,1005 L869.3,995 L877,995 L877,993.6 L881.2,993.6 L886,1000 L886,1011.5 L880,1012 L869.3,1008Z" fill="#999999"/>
<use href="#borders"/>
<path d="M867.8,1011 L884,1011 L881,1016 L879,1025 L873,1029.3 L867.8,1023.4 L867.1,1017.4Z" fill="#000"/>
<text transform="translate(893.5,191.2) scale(0.98,1.02)" fill="#000">532</text>
<text transform="translate(929.0,486.8) scale(0.98,1.02)" fill="#fff">530</text>
<text transform="translate(848.4,754.1) scale(0.98,1.02)" fill="#000">519</text>
<text transform="translate(969.6,739.0) scale(0.98,1.02)" fill="#fff">529</text>
<text transform="translate(962.4,864.0) scale(0.98,1.02)" fill="#fff">517</text>
<text transform="translate(829.7,872.9) scale(0.98,1.02)" fill="#000">512</text>
<text transform="translate(552.9,474.1) scale(0.98,1.02)" fill="#000">540</text>
<text transform="translate(580.0,645.6) scale(0.98,1.02)" fill="#fff">541</text>
<text transform="translate(565.7,785.3) scale(0.98,1.02)" fill="#000">542</text>
<text transform="translate(629.0,896.7) scale(0.98,1.02)" fill="#000">511</text>
<text transform="translate(649.0,1029.0) scale(0.98,1.02)" fill="#000">510</text>
<text transform="translate(417.9,546.8) scale(0.98,1.02)" fill="#000">528</text>
<text transform="translate(278.4,659.1) scale(0.98,1.02)" fill="#000">527</text>
<text transform="translate(415.7,707.8) scale(0.98,1.02)" fill="#fff">520</text>
<text transform="translate(337.9,841.3) scale(0.98,1.02)" fill="#000">523</text>
<text transform="translate(449.6,854.6) scale(0.98,1.02)" fill="#000">544</text>
<text transform="translate(174.0,759.0) scale(0.98,1.02)" fill="#fff">526</text>
<text transform="translate(223.4,850.2) scale(0.98,1.02)" fill="#000">522</text>
<text transform="translate(853.8,966.8) scale(0.98,1.02)" fill="#000">515</text>
<text transform="translate(963.7,966.1) scale(0.98,1.02)" fill="#000">726</text>
<text transform="translate(804.0,1010.1) scale(0.98,1.02)" fill="#000">503</text>
<text transform="translate(961.5,1035.7) scale(0.98,1.02)" fill="#000">514</text>
<text transform="translate(789.8,1089.7) scale(0.98,1.02)" fill="#fff">504</text>
<text transform="translate(889.9,1090.6) scale(0.98,1.02)" fill="#000">502</text>
<text transform="translate(992.3,1080.2) scale(0.98,1.02)" fill="#000">501</text>
<text transform="translate(839.0,1161.1) scale(0.98,1.02)" fill="#000">260</text>
<text transform="translate(914.6,1168.1) scale(0.98,1.02)" fill="#000">258</text>
<text transform="translate(1004.2,1152.1) scale(0.98,1.02)" fill="#fff">500</text>
<text transform="translate(814.5,1209.1) scale(0.98,1.02)" fill="#000">252</text>
<text transform="translate(910.6,1239.1) scale(0.98,1.02)" fill="#000">254</text>
<text transform="translate(997.7,1227.1) scale(0.98,1.02)" fill="#000">256</text>
<text transform="translate(742.9,535.5) scale(0.98,1.02)" fill="#fff">531</text>
<text transform="translate(734.9,707.4) scale(0.98,1.02)" fill="#fff">518</text>
<text transform="translate(718.5,876.5) scale(0.98,1.02)" fill="#000">516</text>
<text transform="translate(721.5,993.4) scale(0.98,1.02)" fill="#000">509</text>
<text transform="translate(875.0,1021.5) scale(0.98,1.02)" fill="#000">651</text>
<text transform="translate(891.5,1028.0) scale(0.98,1.02)" fill="#000">641</text>
</g>
</g>
<text x="50.5" y="112" font-size="50.5px">Calf:Cow</text>
<text x="1144.5" y="112" font-size="50.5px">Bull:Cow</text>
<text x="57" y="190" font-size="41px">Calves/Bulls per Cow</text>
<rect x="62" y="213.5" width="42" height="235.5" fill="url(#lg)"/>
<g font-size="33.5px">
<text transform="translate(115,249.4) scale(1,1.07)">0.4</text>
<text transform="translate(115,291.4) scale(1,1.07)">0.5</text>
<text transform="translate(115,333.4) scale(1,1.07)">0.6</text>
<text transform="translate(115,375.4) scale(1,1.07)">0.7</text>
<text transform="translate(115,417.4) scale(1,1.07)">0.8</text>
<text transform="translate(115,459.4) scale(1,1.07)">0.9</text>
<text transform="translate(115,500.8) scale(1.02,1.07)">Missing</text>
</g>
<rect x="62" y="465.5" width="42" height="42.5" fill="#999999"/>
<text x="122.5" y="1097.8" font-size="40px" text-anchor="middle">N</text>
<g transform="translate(123.4,1154.5)">
<path d="M0,-49.5 L7.5,-7.5 L49.5,0 L7.5,7.5 L0,49 L-7.5,7.5 L-49.5,0 L-7.5,-7.5 Z" fill="#000" stroke="#000" stroke-width="1.6" stroke-linejoin="round"/>
<path d="M-1.5,-23 L-1.5,-6 L-4,-9 L-3,-22 Z M23,-1.5 L6,-1.5 L9,-4 L22,-3 Z M1.5,23 L1.5,6 L4,9 L3,22 Z M-23,1.5 L-6,1.5 L-9,4 L-22,3 Z" fill="#fff"/>
</g>
<rect x="62.6" y="1232.3" width="312.9" height="15" fill="#fff" stroke="#000" stroke-width="3"/>
<rect x="139" y="1232.3" width="82" height="15" fill="#000"/>
<rect x="296.3" y="1232.3" width="79.2" height="15" fill="#000"/>
<g font-size="23.6px" text-anchor="middle">
<text x="62" y="1271.2">0</text>
<text x="139.9" y="1271.2">50</text>
<text x="219.4" y="1271.2">100</text>
<text x="297.6" y="1271.2">150</text>
<text x="374.6" y="1271.2">200</text>
<text x="418.2" y="1271.2">km</text>
</g>
</svg>
</body></html>
